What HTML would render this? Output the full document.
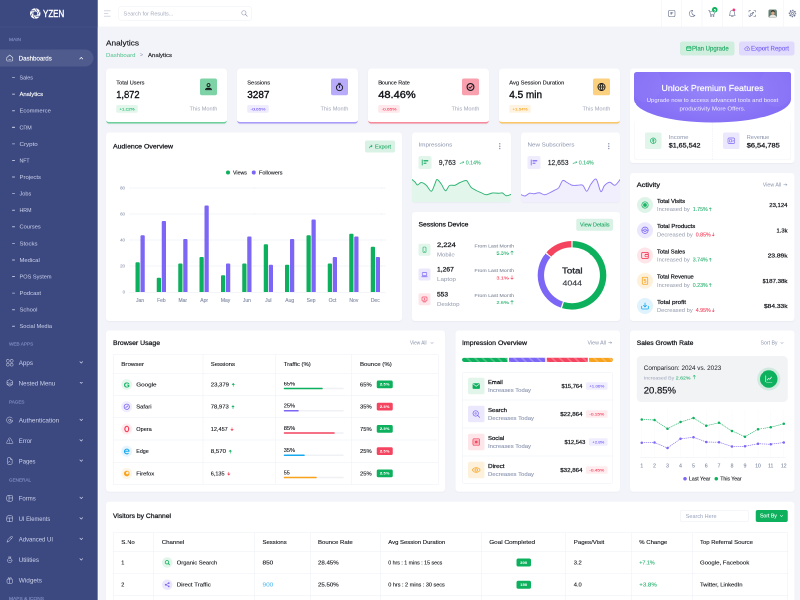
<!DOCTYPE html>
<html lang="en">
<head>
<meta charset="utf-8">
<title>Analytics - YZEN Dashboard</title>
<style>
html,body{margin:0;padding:0;width:800px;height:600px;overflow:hidden;background:#f3f4f9;}
body{font-family:"Liberation Sans",sans-serif;}
#wrap{position:absolute;left:0;top:0;width:1600px;height:1200px;transform:scale(.5);transform-origin:0 0;will-change:transform;overflow:hidden;}
#app{position:absolute;left:0;top:0;width:3200px;height:2400px;transform:scale(.5);transform-origin:0 0;overflow:hidden;background:#f3f4f9;}
#app div,#app span,#app svg,#app h1,#app h2,#app a,#app p{position:absolute;box-sizing:border-box;margin:0;padding:0;}
.t{white-space:nowrap;font-weight:400;text-decoration:none;transform-origin:0 50%;-webkit-text-stroke:.022em currentColor;}
.b{-webkit-text-stroke:.01em currentColor;}
.l{-webkit-text-stroke:0 currentColor;}
.s{-webkit-text-stroke:.04em currentColor;}
</style>
</head>
<body>
<div id="wrap">
<div id="app">
<!-- PAGE HEAD -->
<h2 class="t" style="left:424px;top:155.86px;font-size:31px;line-height:31px;color:#15171c;transform:scaleX(1.064);">Analytics</h2>
<a class="t l" style="left:424px;top:207.76px;font-size:23px;line-height:23px;color:#4cc188;transform:scaleX(1.049);">Dashboard</a>
<span class="t" style="left:560px;top:209.23px;font-size:20px;line-height:20px;color:#9aa3bd;transform:scaleX(1.027);">&gt;</span>
<span class="t" style="left:592px;top:207.76px;font-size:23px;line-height:23px;color:#15171c;transform:scaleX(1.043);">Analytics</span>
<div style="left:2720px;top:166px;width:218px;height:56px;background:#cfeedd;border-radius:10px;"></div>
<svg style="left:2744px;top:183px;" width="22" height="22" viewBox="0 0 22 22" fill="none"><rect x="2" y="4" width="18" height="15" rx="2.500" stroke="#0db15d" stroke-width="2.6"/><path d="M2 9 h18 M6 2 v4 M16 2 v4" stroke="#0db15d" stroke-width="2.600"/></svg>
<span class="t" style="left:2768px;top:182.28px;font-size:24px;line-height:24px;color:#1fa863;">Plan Upgrade</span>
<div style="left:2956px;top:166px;width:222px;height:56px;background:#e0dbfd;border-radius:10px;"></div>
<svg style="left:2977px;top:182px;" width="24" height="24" viewBox="0 0 24 24" fill="none"><path d="M7 19 a5 5 0 0 1 -1 -9.900 a6.500 6.500 0 0 1 12.500 1 a4.500 4.500 0 0 1 -.5 8.900 z" stroke="#7b66f5" stroke-width="2.200"/><path d="M12 17 v-6 M9.500 13 l2.500 -2.500 l2.500 2.500" stroke="#7b66f5" stroke-width="2"/></svg>
<span class="t" style="left:3004px;top:182.28px;font-size:24px;line-height:24px;color:#7b66f5;transform:scaleX(1.027);">Export Report</span>
<div style="left:424px;top:274px;width:484px;height:221px;background:#fff;border-radius:14px;border-bottom:7px solid #6fcf9c;box-shadow:0 2px 6px rgba(30,40,90,.04);"></div>
<span class="t" style="left:465px;top:320.01px;font-size:22.5px;line-height:22.5px;color:#15171c;">Total Users</span>
<span class="t s" style="left:465px;top:358.46px;font-size:40px;line-height:40px;color:#15171c;transform:scaleX(0.929);">1,872</span>
<div style="left:465px;top:420px;width:86px;height:31px;background:#e3f6ec;border-radius:7px;"></div>
<span class="t" style="left:478px;top:427.93px;font-size:15.5px;line-height:15.5px;color:#0db15d;transform:scaleX(1.132);">+1.02%</span>
<span class="t l" style="left:758px;top:423.01px;font-size:22.5px;line-height:22.5px;color:#a0a6b8;">This Month</span>
<div style="left:800px;top:314px;width:68px;height:67px;background:#7ed3a6;border-radius:8px;"></div>
<svg style="left:815px;top:328.5px;" width="38" height="38" viewBox="0 0 32 32" fill="none"><circle cx="16" cy="9.500" r="5" stroke="#15171c" stroke-width="2.9" stroke-linecap="round" stroke-linejoin="round"/><path d="M6 25 c1 -7 19 -7 20 0 z" stroke="#15171c" stroke-width="2.9" stroke-linecap="round" stroke-linejoin="round"/><path d="M11 22 h10" stroke="#15171c" stroke-width="2.9" stroke-linecap="round" stroke-linejoin="round"/></svg>
<div style="left:948px;top:274px;width:484px;height:221px;background:#fff;border-radius:14px;border-bottom:7px solid #a99bf9;box-shadow:0 2px 6px rgba(30,40,90,.04);"></div>
<span class="t" style="left:989px;top:320.01px;font-size:22.5px;line-height:22.5px;color:#15171c;">Sessions</span>
<span class="t s" style="left:989px;top:358.46px;font-size:40px;line-height:40px;color:#15171c;">3287</span>
<div style="left:989px;top:420px;width:86px;height:31px;background:#efecfe;border-radius:7px;"></div>
<span class="t" style="left:1002px;top:427.93px;font-size:15.5px;line-height:15.5px;color:#7b66f5;transform:scaleX(1.222);">-0.65%</span>
<span class="t l" style="left:1282px;top:423.01px;font-size:22.5px;line-height:22.5px;color:#a0a6b8;">This Month</span>
<div style="left:1324px;top:314px;width:68px;height:67px;background:#b7abfa;border-radius:8px;"></div>
<svg style="left:1339px;top:328.5px;" width="38" height="38" viewBox="0 0 32 32" fill="none"><circle cx="16" cy="18" r="10.500" stroke="#15171c" stroke-width="2.9" stroke-linecap="round" stroke-linejoin="round"/><path d="M16 12 v6 M12.500 3.500 h7" stroke="#15171c" stroke-width="2.9" stroke-linecap="round" stroke-linejoin="round"/></svg>
<div style="left:1472px;top:274px;width:484px;height:221px;background:#fff;border-radius:14px;border-bottom:7px solid #f78a9b;box-shadow:0 2px 6px rgba(30,40,90,.04);"></div>
<span class="t" style="left:1513px;top:320.01px;font-size:22.5px;line-height:22.5px;color:#15171c;transform:scaleX(0.969);">Bounce Rate</span>
<span class="t s" style="left:1513px;top:358.46px;font-size:40px;line-height:40px;color:#15171c;transform:scaleX(1.106);">48.46%</span>
<div style="left:1513px;top:420px;width:86px;height:31px;background:#fee8eb;border-radius:7px;"></div>
<span class="t" style="left:1526px;top:427.93px;font-size:15.5px;line-height:15.5px;color:#f5445f;transform:scaleX(1.222);">-0.65%</span>
<span class="t l" style="left:1806px;top:423.01px;font-size:22.5px;line-height:22.5px;color:#a0a6b8;">This Month</span>
<div style="left:1848px;top:314px;width:68px;height:67px;background:#f9a0ae;border-radius:8px;"></div>
<svg style="left:1863px;top:328.5px;" width="38" height="38" viewBox="0 0 32 32" fill="none"><circle cx="16" cy="16" r="11.500" stroke="#15171c" stroke-width="3.800"/><path d="M11 16.500 l3.500 3.500 l7 -7.500" stroke="#15171c" stroke-width="2.9" stroke-linecap="round" stroke-linejoin="round"/></svg>
<div style="left:1996px;top:274px;width:484px;height:221px;background:#fff;border-radius:14px;border-bottom:7px solid #fac668;box-shadow:0 2px 6px rgba(30,40,90,.04);"></div>
<span class="t" style="left:2037px;top:320.01px;font-size:22.5px;line-height:22.5px;color:#15171c;transform:scaleX(1.019);">Avg Session Duration</span>
<span class="t s" style="left:2037px;top:358.46px;font-size:40px;line-height:40px;color:#15171c;">4.5 min</span>
<div style="left:2037px;top:420px;width:86px;height:31px;background:#fef3e0;border-radius:7px;"></div>
<span class="t" style="left:2050px;top:427.93px;font-size:15.5px;line-height:15.5px;color:#f9a21c;transform:scaleX(1.132);">+1.54%</span>
<span class="t l" style="left:2330px;top:423.01px;font-size:22.5px;line-height:22.5px;color:#a0a6b8;">This Month</span>
<div style="left:2372px;top:314px;width:68px;height:67px;background:#fbd07f;border-radius:8px;"></div>
<svg style="left:2387px;top:328.5px;" width="38" height="38" viewBox="0 0 32 32" fill="none"><circle cx="16" cy="16" r="12" stroke="#15171c" stroke-width="2.9" stroke-linecap="round" stroke-linejoin="round"/><path d="M4 16 h24 M16 4 c-6 6 -6 18 0 24 M16 4 c6 6 6 18 0 24" stroke="#15171c" stroke-width="2.9" stroke-linecap="round" stroke-linejoin="round"/></svg>
<!-- PREMIUM -->
<div style="left:2520px;top:274px;width:658px;height:378px;background:#fff;border-radius:12px;box-shadow:0 3px 5px rgba(30,40,90,.035);"></div>
<div style="left:2536px;top:288px;width:628px;height:202px;border-radius:10px 10px 50% 50% / 10px 10px 46% 46%;background:radial-gradient(75% 110% at 50% 35%,#9686f9 0%,#8873f7 55%,#7b65f5 100%);overflow:hidden;"><div style="left:-20px;top:-30px;width:130px;height:150px;border-radius:50%;background:rgba(255,255,255,.035);"></div><div style="left:500px;top:-20px;width:140px;height:160px;border-radius:50%;background:rgba(255,255,255,.035);"></div></div>
<span class="t" style="left:2646px;top:334.88px;font-size:33px;line-height:33px;color:#fff;transform:scaleX(1.07);">Unlock Premium Features</span>
<span class="t l" style="left:2587px;top:390.25px;font-size:22px;line-height:22px;color:#f1eefe;transform:scaleX(1.081);">Upgrade now to access advanced tools and boost</span>
<span class="t l" style="left:2718px;top:424.25px;font-size:22px;line-height:22px;color:#f1eefe;transform:scaleX(1.104);">productivity More Offers.</span>
<div style="left:2536px;top:488px;width:628px;height:152px;border-radius:0 0 12px 12px;border:2px solid #f2f3f8;border-top:none;"></div>
<div style="left:2849px;top:492px;width:2px;height:146px;border-left:2px dashed #e9ebf2;"></div>
<div style="left:2580px;top:530px;width:66px;height:66px;background:#e1f5ea;border-radius:8px;"></div>
<svg style="left:2597px;top:547px;" width="32" height="32" viewBox="0 0 32 32" fill="none"><circle cx="16" cy="16" r="11" stroke="#0db15d" stroke-width="2.6"/><path d="M12 11 h8 M12 15 h8 M14 11 c5 0 5 8 0 8 l5 5" stroke="#0db15d" stroke-width="2.200" stroke-linecap="round"/></svg>
<span class="t l" style="left:2675px;top:537.01px;font-size:22.5px;line-height:22.5px;color:#8a94ad;transform:scaleX(1.071);">Income</span>
<span class="t s" style="left:2675px;top:568.3px;font-size:26px;line-height:26px;color:#15171c;transform:scaleX(1.098);">$1,65,542</span>
<div style="left:2892px;top:530px;width:66px;height:66px;background:#ebe8fe;border-radius:8px;"></div>
<svg style="left:2909px;top:547px;" width="32" height="32" viewBox="0 0 32 32" fill="none"><rect x="3" y="5" width="26" height="22" rx="4" stroke="#7b66f5" stroke-width="2.6"/><rect x="9" y="11" width="9" height="10" rx="2" stroke="#7b66f5" stroke-width="2.400"/><path d="M22 13 l3 3 l-3 3" stroke="#7b66f5" stroke-width="2.200" stroke-linecap="round"/></svg>
<span class="t l" style="left:2987px;top:537.01px;font-size:22.5px;line-height:22.5px;color:#8a94ad;">Revenue</span>
<span class="t s" style="left:2987px;top:568.3px;font-size:26px;line-height:26px;color:#15171c;transform:scaleX(1.141);">$6,54,785</span>
<!-- AUDIENCE OVERVIEW -->
<div style="left:424px;top:530px;width:1184px;height:754px;background:#fff;border-radius:12px;box-shadow:0 3px 5px rgba(30,40,90,.035);"></div>
<h2 class="t s" style="left:452px;top:570.81px;font-size:27px;line-height:27px;color:#15171c;transform:scaleX(1.032);">Audience Overview</h2>
<div style="left:1460px;top:562px;width:120px;height:48px;background:#d9f2e5;border-radius:8px;"></div>
<svg style="left:1474px;top:577px;" width="20" height="20" viewBox="0 0 20 20" fill="none"><path d="M3 15 c2 -6 6 -8 11 -8 M10 3 l5 4 l-5 4" stroke="#0db15d" stroke-width="2.400" stroke-linecap="round" stroke-linejoin="round"/></svg>
<span class="t" style="left:1500px;top:575.5px;font-size:21.5px;line-height:21.5px;color:#1fa863;transform:scaleX(1.03);">Export</span>
<div style="left:904px;top:682px;width:16px;height:16px;background:#0db15d;border-radius:8px;"></div>
<span class="t" style="left:932px;top:679.74px;font-size:21px;line-height:21px;color:#15171c;">Views</span>
<div style="left:1007px;top:682px;width:16px;height:16px;background:#7b66f5;border-radius:8px;"></div>
<span class="t" style="left:1036px;top:679.74px;font-size:21px;line-height:21px;color:#15171c;transform:scaleX(1.046);">Followers</span>
<span class="t" style="left:480.53px;top:743.45px;font-size:17.5px;line-height:17.5px;color:#949db3;">80</span>
<div style="left:516px;top:751px;width:1026px;height:2px;border-top:2px dotted #d3d7e2;"></div>
<span class="t" style="left:480.53px;top:847.45px;font-size:17.5px;line-height:17.5px;color:#949db3;">60</span>
<div style="left:516px;top:855px;width:1026px;height:2px;border-top:2px dotted #d3d7e2;"></div>
<span class="t" style="left:480.53px;top:951.45px;font-size:17.5px;line-height:17.5px;color:#949db3;">40</span>
<div style="left:516px;top:959px;width:1026px;height:2px;border-top:2px dotted #d3d7e2;"></div>
<span class="t" style="left:480.53px;top:1055.45px;font-size:17.5px;line-height:17.5px;color:#949db3;">20</span>
<div style="left:516px;top:1063px;width:1026px;height:2px;border-top:2px dotted #d3d7e2;"></div>
<span class="t" style="left:490.27px;top:1159.45px;font-size:17.5px;line-height:17.5px;color:#949db3;">0</span>
<div style="left:516px;top:1168px;width:1026px;height:2px;background:#e9ebf2;"></div>
<div style="left:541.5px;top:1049.09px;width:17px;height:118.91px;background:#0db15d;border-radius:4px 4px 0 0;"></div>
<div style="left:561.5px;top:940.52px;width:17px;height:227.48px;background:#7b66f5;border-radius:4px 4px 0 0;"></div>
<span class="t" style="left:543.88px;top:1191.23px;font-size:20px;line-height:20px;color:#7f89a3;">Jan</span>
<div style="left:627.05px;top:1111.13px;width:17px;height:56.87px;background:#0db15d;border-radius:4px 4px 0 0;"></div>
<div style="left:647.05px;top:883.65px;width:17px;height:284.35px;background:#7b66f5;border-radius:4px 4px 0 0;"></div>
<span class="t" style="left:628.32px;top:1191.23px;font-size:20px;line-height:20px;color:#7f89a3;">Feb</span>
<div style="left:712.6px;top:1054.26px;width:17px;height:113.74px;background:#0db15d;border-radius:4px 4px 0 0;"></div>
<div style="left:732.6px;top:956.03px;width:17px;height:211.97px;background:#7b66f5;border-radius:4px 4px 0 0;"></div>
<span class="t" style="left:713.88px;top:1191.23px;font-size:20px;line-height:20px;color:#7f89a3;">Mar</span>
<div style="left:798.15px;top:1028.41px;width:17px;height:139.59px;background:#0db15d;border-radius:4px 4px 0 0;"></div>
<div style="left:818.15px;top:821.61px;width:17px;height:346.39px;background:#7b66f5;border-radius:4px 4px 0 0;"></div>
<span class="t" style="left:801.09px;top:1191.23px;font-size:20px;line-height:20px;color:#7f89a3;">Apr</span>
<div style="left:883.7px;top:1100.79px;width:17px;height:67.21px;background:#0db15d;border-radius:4px 4px 0 0;"></div>
<div style="left:903.7px;top:1054.26px;width:17px;height:113.74px;background:#7b66f5;border-radius:4px 4px 0 0;"></div>
<span class="t" style="left:883.31px;top:1191.23px;font-size:20px;line-height:20px;color:#7f89a3;">May</span>
<div style="left:969.25px;top:1054.26px;width:17px;height:113.74px;background:#0db15d;border-radius:4px 4px 0 0;"></div>
<div style="left:989.25px;top:945.69px;width:17px;height:222.31px;background:#7b66f5;border-radius:4px 4px 0 0;"></div>
<span class="t" style="left:971.63px;top:1191.23px;font-size:20px;line-height:20px;color:#7f89a3;">Jun</span>
<div style="left:1054.8px;top:976.71px;width:17px;height:191.29px;background:#0db15d;border-radius:4px 4px 0 0;"></div>
<div style="left:1074.8px;top:1059.43px;width:17px;height:108.57px;background:#7b66f5;border-radius:4px 4px 0 0;"></div>
<span class="t" style="left:1060.52px;top:1191.23px;font-size:20px;line-height:20px;color:#7f89a3;">Jul</span>
<div style="left:1140.35px;top:1059.43px;width:17px;height:108.57px;background:#0db15d;border-radius:4px 4px 0 0;"></div>
<div style="left:1160.35px;top:956.03px;width:17px;height:211.97px;background:#7b66f5;border-radius:4px 4px 0 0;"></div>
<span class="t" style="left:1141.06px;top:1191.23px;font-size:20px;line-height:20px;color:#7f89a3;">Aug</span>
<div style="left:1225.9px;top:940.52px;width:17px;height:227.48px;background:#0db15d;border-radius:4px 4px 0 0;"></div>
<div style="left:1245.9px;top:878.48px;width:17px;height:289.52px;background:#7b66f5;border-radius:4px 4px 0 0;"></div>
<span class="t" style="left:1226.61px;top:1191.23px;font-size:20px;line-height:20px;color:#7f89a3;">Sep</span>
<div style="left:1311.45px;top:1054.26px;width:17px;height:113.74px;background:#0db15d;border-radius:4px 4px 0 0;"></div>
<div style="left:1331.45px;top:1028.41px;width:17px;height:139.59px;background:#7b66f5;border-radius:4px 4px 0 0;"></div>
<span class="t" style="left:1314.39px;top:1191.23px;font-size:20px;line-height:20px;color:#7f89a3;">Oct</span>
<div style="left:1397px;top:935.35px;width:17px;height:232.65px;background:#0db15d;border-radius:4px 4px 0 0;"></div>
<div style="left:1417px;top:945.69px;width:17px;height:222.31px;background:#7b66f5;border-radius:4px 4px 0 0;"></div>
<span class="t" style="left:1397.72px;top:1191.23px;font-size:20px;line-height:20px;color:#7f89a3;">Nov</span>
<div style="left:1482.55px;top:987.05px;width:17px;height:180.95px;background:#0db15d;border-radius:4px 4px 0 0;"></div>
<div style="left:1502.55px;top:1028.41px;width:17px;height:139.59px;background:#7b66f5;border-radius:4px 4px 0 0;"></div>
<span class="t" style="left:1483.27px;top:1191.23px;font-size:20px;line-height:20px;color:#7f89a3;">Dec</span>
<!-- IMPRESSIONS / SUBSCRIBERS -->
<div style="left:1648px;top:530px;width:396px;height:278px;background:#fff;border-radius:12px;box-shadow:0 3px 5px rgba(30,40,90,.035);overflow:hidden;"></div>
<span class="t l" style="left:1674px;top:566.52px;font-size:23.5px;line-height:23.5px;color:#8a94ad;transform:scaleX(1.066);">Impressions</span>
<div style="left:1995.5px;top:572px;width:6px;height:6px;background:#8f98b3;border-radius:3px;"></div>
<div style="left:1995.5px;top:581.5px;width:6px;height:6px;background:#8f98b3;border-radius:3px;"></div>
<div style="left:1995.5px;top:591px;width:6px;height:6px;background:#8f98b3;border-radius:3px;"></div>
<div style="left:1674px;top:624px;width:52px;height:52px;background:#e1f5ea;border-radius:8px;"></div>
<svg style="left:1685px;top:635px;" width="30" height="30" viewBox="0 0 30 30" fill="none"><path d="M4 5 v20" stroke="#2fb574" stroke-width="3.800" stroke-linecap="round"/><path d="M11.500 8 h14" stroke="#2fb574" stroke-width="6" stroke-linecap="round"/><path d="M11.500 18 h7" stroke="#2fb574" stroke-width="5" stroke-linecap="round"/></svg>
<span class="t" style="left:1755px;top:637.32px;font-size:28px;line-height:28px;color:#23262d;transform:scaleX(0.97);">9,763</span>
<svg style="left:1838px;top:641px;" width="20" height="20" viewBox="0 0 20 20" fill="none"><path d="M2 14 l5 -4 l3 2 l7 -6 M13 6 h4 v4" stroke="#2fb574" stroke-width="2.200" stroke-linecap="round" stroke-linejoin="round"/></svg>
<span class="t" style="left:1863px;top:641.23px;font-size:20px;line-height:20px;color:#2fb574;transform:scaleX(1.058);">0.14%</span>
<svg style="left:1648px;top:700px;" width="396" height="108" viewBox="0 0 396 108" fill="none"><path d="M0 18 C1.92 19.6 8.48 24.48 12 28 C15.52 31.52 18 39.68 22 40 C26 40.32 31.4 29.84 37 30 C42.6 30.16 50.6 35.4 57 41 C63.4 46.6 71.72 65.16 77 65 C82.28 64.84 86.32 47.52 90 40 C93.68 32.48 95.68 18.64 100 18 C104.32 17.36 111.56 28.8 117 36 C122.44 43.2 128.72 62.04 134 63 C139.28 63.96 143.92 45.52 150 42 C156.08 38.48 165.28 42.92 172 41 C178.72 39.08 184.8 33.04 192 30 C199.2 26.96 211.4 21.2 217 22 C222.6 22.8 223.8 30.52 227 35 C230.2 39.48 232.2 45.68 237 50 C241.8 54.32 250.6 58.64 257 62 C263.4 65.36 270.6 68.28 277 71 C283.4 73.72 289.8 78.84 297 79 C304.2 79.16 314 72.96 322 72 C330 71.04 340.6 73 347 73 C353.4 73 357.2 70.4 362 72 C366.8 73.6 371.72 82.04 377 83 C382.28 83.96 392.12 78.8 395 78 L395 110 L0 110 Z" fill="#e3f6ec"/><path d="M0 18 C1.92 19.6 8.48 24.48 12 28 C15.52 31.52 18 39.68 22 40 C26 40.32 31.4 29.84 37 30 C42.6 30.16 50.6 35.4 57 41 C63.4 46.6 71.72 65.16 77 65 C82.28 64.84 86.32 47.52 90 40 C93.68 32.48 95.68 18.64 100 18 C104.32 17.36 111.56 28.8 117 36 C122.44 43.2 128.72 62.04 134 63 C139.28 63.96 143.92 45.52 150 42 C156.08 38.48 165.28 42.92 172 41 C178.72 39.08 184.8 33.04 192 30 C199.2 26.96 211.4 21.2 217 22 C222.6 22.8 223.8 30.52 227 35 C230.2 39.48 232.2 45.68 237 50 C241.8 54.32 250.6 58.64 257 62 C263.4 65.36 270.6 68.28 277 71 C283.4 73.72 289.8 78.84 297 79 C304.2 79.16 314 72.96 322 72 C330 71.04 340.6 73 347 73 C353.4 73 357.2 70.4 362 72 C366.8 73.6 371.72 82.04 377 83 C382.28 83.96 392.12 78.8 395 78" stroke="#2fb574" stroke-width="3.800" stroke-linejoin="round" stroke-linecap="round"/></svg>
<div style="left:2084px;top:530px;width:396px;height:278px;background:#fff;border-radius:12px;box-shadow:0 3px 5px rgba(30,40,90,.035);overflow:hidden;"></div>
<span class="t l" style="left:2110px;top:566.52px;font-size:23.5px;line-height:23.5px;color:#8a94ad;transform:scaleX(1.058);">New Subscribers</span>
<div style="left:2431.5px;top:572px;width:6px;height:6px;background:#8f98b3;border-radius:3px;"></div>
<div style="left:2431.5px;top:581.5px;width:6px;height:6px;background:#8f98b3;border-radius:3px;"></div>
<div style="left:2431.5px;top:591px;width:6px;height:6px;background:#8f98b3;border-radius:3px;"></div>
<div style="left:2110px;top:624px;width:52px;height:52px;background:#efecfe;border-radius:8px;"></div>
<svg style="left:2121px;top:635px;" width="30" height="30" viewBox="0 0 30 30" fill="none"><path d="M4 5 v20" stroke="#8f7df7" stroke-width="3.800" stroke-linecap="round"/><path d="M11.500 8 h14" stroke="#8f7df7" stroke-width="6" stroke-linecap="round"/><path d="M11.500 18 h7" stroke="#8f7df7" stroke-width="5" stroke-linecap="round"/></svg>
<span class="t" style="left:2191px;top:637.32px;font-size:28px;line-height:28px;color:#23262d;transform:scaleX(0.969);">12,653</span>
<svg style="left:2290px;top:641px;" width="20" height="20" viewBox="0 0 20 20" fill="none"><path d="M2 14 l5 -4 l3 2 l7 -6 M13 6 h4 v4" stroke="#2fb574" stroke-width="2.200" stroke-linecap="round" stroke-linejoin="round"/></svg>
<span class="t" style="left:2315px;top:641.23px;font-size:20px;line-height:20px;color:#2fb574;transform:scaleX(1.058);">0.14%</span>
<svg style="left:2084px;top:700px;" width="396" height="108" viewBox="0 0 396 108" fill="none"><path d="M-1 78 C1.72 78.96 10.4 84.8 16 84 C21.6 83.2 28.24 74.44 34 73 C39.76 71.56 45.76 75.32 52 75 C58.24 74.68 66.28 70.36 73 71 C79.72 71.64 87.28 79 94 79 C100.72 79 108.28 74.04 115 71 C121.72 67.96 130.24 63.2 136 60 C141.76 56.8 146.04 57.08 151 51 C155.96 44.92 161.72 25.36 167 22 C172.28 18.64 177.92 26.96 184 30 C190.08 33.04 198.28 39.24 205 41 C211.72 42.76 219.28 41 226 41 C232.72 41 241.08 37.16 247 41 C252.92 44.84 257.72 65.8 263 65 C268.28 64.2 273.92 43.68 280 36 C286.08 28.32 294.76 12.2 301 17 C307.24 21.8 313.72 62 319 66 C324.28 70 328.24 47.92 334 42 C339.76 36.08 348.28 29.16 355 29 C361.72 28.84 369.12 43.08 376 41 C382.88 38.92 394.48 20 398 16 L398 110 L-1 110 Z" fill="#f1eefe"/><path d="M-1 78 C1.72 78.96 10.4 84.8 16 84 C21.6 83.2 28.24 74.44 34 73 C39.76 71.56 45.76 75.32 52 75 C58.24 74.68 66.28 70.36 73 71 C79.72 71.64 87.28 79 94 79 C100.72 79 108.28 74.04 115 71 C121.72 67.96 130.24 63.2 136 60 C141.76 56.8 146.04 57.08 151 51 C155.96 44.92 161.72 25.36 167 22 C172.28 18.64 177.92 26.96 184 30 C190.08 33.04 198.28 39.24 205 41 C211.72 42.76 219.28 41 226 41 C232.72 41 241.08 37.16 247 41 C252.92 44.84 257.72 65.8 263 65 C268.28 64.2 273.92 43.68 280 36 C286.08 28.32 294.76 12.2 301 17 C307.24 21.8 313.72 62 319 66 C324.28 70 328.24 47.92 334 42 C339.76 36.08 348.28 29.16 355 29 C361.72 28.84 369.12 43.08 376 41 C382.88 38.92 394.48 20 398 16" stroke="#8f7df7" stroke-width="3.800" stroke-linejoin="round" stroke-linecap="round"/></svg>
<!-- SESSIONS DEVICE -->
<div style="left:1648px;top:848px;width:832px;height:436px;background:#fff;border-radius:12px;box-shadow:0 3px 5px rgba(30,40,90,.035);"></div>
<h2 class="t s" style="left:1674px;top:882.81px;font-size:27px;line-height:27px;color:#15171c;">Sessions Device</h2>
<div style="left:2305px;top:875px;width:147px;height:48px;background:#d9f2e5;border-radius:8px;"></div>
<span class="t" style="left:2319.5px;top:888.99px;font-size:20.5px;line-height:20.5px;color:#1fa863;transform:scaleX(1.05);">View Details</span>
<div style="left:1674px;top:975px;width:48px;height:48px;background:#e1f5ea;border-radius:8px;"></div>
<svg style="left:1684px;top:985px;" width="28" height="28" viewBox="0 0 28 28" fill="none"><rect x="8" y="3" width="12" height="22" rx="3" stroke="#0db15d" stroke-width="2.400"/><path d="M12 21 h4" stroke="#0db15d" stroke-width="2"/></svg>
<span class="t s" style="left:1748px;top:964.81px;font-size:27px;line-height:27px;color:#15171c;transform:scaleX(1.11);">2,224</span>
<span class="t l" style="left:1748px;top:1005.76px;font-size:23px;line-height:23px;color:#9198ab;transform:scaleX(1.048);">Mobile</span>
<span class="t" style="left:1898px;top:973.47px;font-size:19.5px;line-height:19.5px;color:#878e9f;transform:scaleX(1.072);">From Last Month</span>
<span class="t" style="left:1986px;top:1001.72px;font-size:19px;line-height:19px;color:#2fb574;transform:scaleX(1.108);">5.3%</span>
<svg style="left:2040px;top:1001px;" width="16" height="20" viewBox="0 0 16 20" fill="none"><path d="M8 18 V3 M3 8 l5 -5 l5 5" stroke="#2fb574" stroke-width="2.200" stroke-linecap="round" stroke-linejoin="round"/></svg>
<div style="left:1674px;top:1074px;width:48px;height:48px;background:#ebe8fe;border-radius:8px;"></div>
<svg style="left:1684px;top:1084px;" width="28" height="28" viewBox="0 0 28 28" fill="none"><rect x="5" y="6" width="18" height="13" rx="3" stroke="#7b66f5" stroke-width="2.600"/><path d="M3 23 h22" stroke="#7b66f5" stroke-width="2.600" stroke-linecap="round"/></svg>
<span class="t s" style="left:1748px;top:1063.81px;font-size:27px;line-height:27px;color:#15171c;">1,267</span>
<span class="t l" style="left:1748px;top:1104.76px;font-size:23px;line-height:23px;color:#9198ab;transform:scaleX(1.08);">Laptop</span>
<span class="t" style="left:1898px;top:1072.47px;font-size:19.5px;line-height:19.5px;color:#878e9f;transform:scaleX(1.072);">From Last Month</span>
<span class="t" style="left:1986px;top:1100.72px;font-size:19px;line-height:19px;color:#f5445f;transform:scaleX(1.108);">3.1%</span>
<svg style="left:2040px;top:1100px;" width="16" height="20" viewBox="0 0 16 20" fill="none"><path d="M8 2 V17 M3 12 l5 5 l5 -5" stroke="#f5445f" stroke-width="2.200" stroke-linecap="round" stroke-linejoin="round"/></svg>
<div style="left:1674px;top:1173px;width:48px;height:48px;background:#fee5e9;border-radius:8px;"></div>
<svg style="left:1684px;top:1183px;" width="28" height="28" viewBox="0 0 28 28" fill="none"><rect x="4" y="5" width="20" height="16" rx="3" stroke="#f5445f" stroke-width="2.600"/><circle cx="14" cy="13" r="3" fill="#f5445f"/><path d="M9 25 h10" stroke="#f5445f" stroke-width="2.400" stroke-linecap="round"/></svg>
<span class="t s" style="left:1748px;top:1162.81px;font-size:27px;line-height:27px;color:#15171c;transform:scaleX(0.977);">553</span>
<span class="t l" style="left:1748px;top:1203.76px;font-size:23px;line-height:23px;color:#9198ab;transform:scaleX(1.067);">Desktop</span>
<span class="t" style="left:1898px;top:1171.47px;font-size:19.5px;line-height:19.5px;color:#878e9f;transform:scaleX(1.072);">From Last Month</span>
<span class="t" style="left:1986px;top:1199.72px;font-size:19px;line-height:19px;color:#2fb574;transform:scaleX(1.108);">2.6%</span>
<svg style="left:2040px;top:1199px;" width="16" height="20" viewBox="0 0 16 20" fill="none"><path d="M8 18 V3 M3 8 l5 -5 l5 5" stroke="#2fb574" stroke-width="2.200" stroke-linecap="round" stroke-linejoin="round"/></svg>
<svg style="left:2138px;top:951px;" width="300" height="300" viewBox="0 0 300 300" fill="none"><path d="M152.39 25.52 A124.5 124.5 0 1 1 113.81 269.12" stroke="#0db15d" stroke-width="25.500"/><path d="M109.26 267.65 A124.5 124.5 0 0 1 54.21 70.47" stroke="#7b66f5" stroke-width="25.500"/><path d="M57.33 66.85 A124.5 124.5 0 0 1 147.61 25.52" stroke="#f5445f" stroke-width="25.500"/></svg>
<span class="t s" style="left:2248px;top:1064.39px;font-size:34px;line-height:34px;color:#2a2d34;transform:scaleX(1.142);">Total</span>
<span class="t" style="left:2250px;top:1116.35px;font-size:30px;line-height:30px;color:#3a3d45;transform:scaleX(1.169);">4044</span>
<!-- ACTIVITY -->
<div style="left:2520px;top:692px;width:658px;height:592px;background:#fff;border-radius:12px;box-shadow:0 3px 5px rgba(30,40,90,.035);"></div>
<h2 class="t s" style="left:2547px;top:725.3px;font-size:26px;line-height:26px;color:#15171c;transform:scaleX(1.129);">Activity</h2>
<span class="t l" style="left:3051px;top:729.23px;font-size:20px;line-height:20px;color:#8a94ad;transform:scaleX(1.062);">View All</span>
<svg style="left:3133px;top:732px;" width="18" height="14" viewBox="0 0 18 14" fill="none"><path d="M2 7 h13 M10 3 l5 4 l-5 4" stroke="#8a94ad" stroke-width="2" stroke-linecap="round" stroke-linejoin="round"/></svg>
<div style="left:2548px;top:788px;width:64px;height:64px;background:#dff4e9;border-radius:32px;"></div>
<svg style="left:2563px;top:803px;" width="34" height="34" viewBox="0 0 28 28" fill="none"><circle cx="14" cy="14" r="10.500" stroke="#0db15d" stroke-width="2.200"/><circle cx="14" cy="14" r="7" fill="#0db15d" opacity=".75"/><circle cx="14" cy="14" r="3.500" fill="#0db15d"/></svg>
<span class="t s" style="left:2628px;top:791.76px;font-size:23px;line-height:23px;color:#15171c;transform:scaleX(1.023);">Total Visits</span>
<span class="t l" style="left:2628px;top:826.25px;font-size:22px;line-height:22px;color:#9198ab;transform:scaleX(1.04);">Increased by</span>
<span class="t" style="left:2771px;top:826.25px;font-size:22px;line-height:22px;color:#2fb574;transform:scaleX(0.962);">1.75%</span>
<svg style="left:2835px;top:828px;" width="12" height="18" viewBox="0 0 12 18" fill="none"><path d="M6 16 V3 M2 7 l4 -4 l4 4" stroke="#2fb574" stroke-width="2.200" stroke-linecap="round" stroke-linejoin="round"/></svg>
<span class="t s" style="left:3077px;top:808.76px;font-size:23px;line-height:23px;color:#15171c;transform:scaleX(1.038);">23,124</span>
<div style="left:2548px;top:889px;width:64px;height:64px;background:#ebe8fe;border-radius:32px;"></div>
<svg style="left:2563px;top:904px;" width="34" height="34" viewBox="0 0 28 28" fill="none"><circle cx="14" cy="14" r="10.500" stroke="#7b66f5" stroke-width="2.600"/><circle cx="14" cy="14" r="4" stroke="#7b66f5" stroke-width="2.400"/><path d="M3.500 14 h6.500 M18 14 h6.500" stroke="#7b66f5" stroke-width="2.400"/></svg>
<span class="t s" style="left:2628px;top:892.76px;font-size:23px;line-height:23px;color:#15171c;transform:scaleX(1.05);">Total Products</span>
<span class="t l" style="left:2628px;top:927.25px;font-size:22px;line-height:22px;color:#9198ab;transform:scaleX(1.053);">Decreased by</span>
<span class="t" style="left:2783px;top:927.25px;font-size:22px;line-height:22px;color:#f5445f;transform:scaleX(0.962);">0.85%</span>
<svg style="left:2847px;top:929px;" width="12" height="18" viewBox="0 0 12 18" fill="none"><path d="M6 2 V15 M2 11 l4 4 l4 -4" stroke="#f5445f" stroke-width="2.200" stroke-linecap="round" stroke-linejoin="round"/></svg>
<span class="t s" style="left:3106px;top:909.76px;font-size:23px;line-height:23px;color:#15171c;transform:scaleX(1.012);">1.3k</span>
<div style="left:2548px;top:990px;width:64px;height:64px;background:#fee5e9;border-radius:32px;"></div>
<svg style="left:2563px;top:1005px;" width="34" height="34" viewBox="0 0 28 28" fill="none"><rect x="3" y="4" width="22" height="20" rx="4" stroke="#f5445f" stroke-width="2.800"/><rect x="14" y="10" width="11" height="8" rx="2" stroke="#f5445f" stroke-width="2.400"/></svg>
<span class="t s" style="left:2628px;top:993.76px;font-size:23px;line-height:23px;color:#15171c;">Total Sales</span>
<span class="t l" style="left:2628px;top:1028.25px;font-size:22px;line-height:22px;color:#9198ab;transform:scaleX(1.04);">Increased by</span>
<span class="t" style="left:2771px;top:1028.25px;font-size:22px;line-height:22px;color:#2fb574;transform:scaleX(0.962);">3.74%</span>
<svg style="left:2835px;top:1030px;" width="12" height="18" viewBox="0 0 12 18" fill="none"><path d="M6 16 V3 M2 7 l4 -4 l4 4" stroke="#2fb574" stroke-width="2.200" stroke-linecap="round" stroke-linejoin="round"/></svg>
<span class="t s" style="left:3071px;top:1010.76px;font-size:23px;line-height:23px;color:#15171c;transform:scaleX(1.144);">23.89k</span>
<div style="left:2548px;top:1091px;width:64px;height:64px;background:#fef1dc;border-radius:32px;"></div>
<svg style="left:2563px;top:1106px;" width="34" height="34" viewBox="0 0 28 28" fill="none"><rect x="5" y="2.500" width="18" height="23" rx="3" stroke="#f9a21c" stroke-width="2.600"/><path d="M17 9 h-4 a2.500 2.500 0 0 0 0 5 h2 a2.500 2.500 0 0 1 0 5 h-4" stroke="#f9a21c" stroke-width="2.200"/></svg>
<span class="t s" style="left:2628px;top:1094.76px;font-size:23px;line-height:23px;color:#15171c;">Total Revenue</span>
<span class="t l" style="left:2628px;top:1129.25px;font-size:22px;line-height:22px;color:#9198ab;transform:scaleX(1.04);">Increased by</span>
<span class="t" style="left:2771px;top:1129.25px;font-size:22px;line-height:22px;color:#2fb574;transform:scaleX(0.962);">0.23%</span>
<svg style="left:2835px;top:1131px;" width="12" height="18" viewBox="0 0 12 18" fill="none"><path d="M6 16 V3 M2 7 l4 -4 l4 4" stroke="#2fb574" stroke-width="2.200" stroke-linecap="round" stroke-linejoin="round"/></svg>
<span class="t s" style="left:3049px;top:1111.76px;font-size:23px;line-height:23px;color:#15171c;transform:scaleX(1.067);">$187.38k</span>
<div style="left:2548px;top:1192px;width:64px;height:64px;background:#def3fd;border-radius:32px;"></div>
<svg style="left:2563px;top:1207px;" width="34" height="34" viewBox="0 0 28 28" fill="none"><path d="M3 15 v7 a2 2 0 0 0 2 2 h18 a2 2 0 0 0 2 -2 v-7" stroke="#16a9ef" stroke-width="2.600" stroke-linecap="round"/><path d="M14 4 v12 M9 12 l5 5 l5 -5" stroke="#16a9ef" stroke-width="2.600" stroke-linecap="round" stroke-linejoin="round"/></svg>
<span class="t s" style="left:2628px;top:1195.76px;font-size:23px;line-height:23px;color:#15171c;transform:scaleX(1.093);">Total profit</span>
<span class="t l" style="left:2628px;top:1230.25px;font-size:22px;line-height:22px;color:#9198ab;transform:scaleX(1.053);">Decreased by</span>
<span class="t" style="left:2783px;top:1230.25px;font-size:22px;line-height:22px;color:#f5445f;transform:scaleX(0.962);">4.95%</span>
<svg style="left:2847px;top:1232px;" width="12" height="18" viewBox="0 0 12 18" fill="none"><path d="M6 2 V15 M2 11 l4 4 l4 -4" stroke="#f5445f" stroke-width="2.200" stroke-linecap="round" stroke-linejoin="round"/></svg>
<span class="t s" style="left:3056px;top:1212.76px;font-size:23px;line-height:23px;color:#15171c;transform:scaleX(1.148);">$84.33k</span>
<!-- BROWSER USAGE -->
<div style="left:424px;top:1322px;width:1356px;height:645px;background:#fff;border-radius:12px;box-shadow:0 3px 5px rgba(30,40,90,.035);"></div>
<h2 class="t s" style="left:452px;top:1356.81px;font-size:27px;line-height:27px;color:#15171c;transform:scaleX(1.019);">Browser Usage</h2>
<span class="t l" style="left:1640px;top:1361.23px;font-size:20px;line-height:20px;color:#8a94ad;transform:scaleX(0.947);">View All</span>
<svg style="left:1720px;top:1366px;" width="16" height="12" viewBox="0 0 16 12" fill="none"><path d="M3 3 L8 8.500 L13 3" stroke="#8a94ad" stroke-width="2" stroke-linecap="round" stroke-linejoin="round"/></svg>
<div style="left:452px;top:1418px;width:1302px;height:521px;border:2px solid #eef0f5;"></div>
<div style="left:452px;top:1492px;width:1302px;height:2px;background:#eef0f5;"></div>
<div style="left:452px;top:1581px;width:1302px;height:2px;background:#eef0f5;"></div>
<div style="left:452px;top:1670px;width:1302px;height:2px;background:#eef0f5;"></div>
<div style="left:452px;top:1759px;width:1302px;height:2px;background:#eef0f5;"></div>
<div style="left:452px;top:1848px;width:1302px;height:2px;background:#eef0f5;"></div>
<div style="left:811px;top:1418px;width:2px;height:521px;background:#eef0f5;"></div>
<div style="left:1101px;top:1418px;width:2px;height:521px;background:#eef0f5;"></div>
<div style="left:1405px;top:1418px;width:2px;height:521px;background:#eef0f5;"></div>
<span class="t" style="left:485px;top:1445.01px;font-size:22.5px;line-height:22.5px;color:#15171c;transform:scaleX(1.103);">Browser</span>
<span class="t" style="left:843px;top:1445.01px;font-size:22.5px;line-height:22.5px;color:#15171c;transform:scaleX(1.062);">Sessions</span>
<span class="t" style="left:1135px;top:1445.01px;font-size:22.5px;line-height:22.5px;color:#15171c;transform:scaleX(1.054);">Traffic (%)</span>
<span class="t" style="left:1440px;top:1445.01px;font-size:22.5px;line-height:22.5px;color:#15171c;transform:scaleX(1.08);">Bounce (%)</span>
<div style="left:485px;top:1515.5px;width:44px;height:44px;background:#e7f7ef;border-radius:22px;"></div>
<span class="t b" style="left:494.94px;top:1522.86px;font-size:31px;line-height:31px;color:#0db15d;font-weight:700;">G</span>
<span class="t" style="left:545px;top:1526.75px;font-size:22px;line-height:22px;color:#15171c;transform:scaleX(1.142);">Google</span>
<span class="t" style="left:843px;top:1527.24px;font-size:21px;line-height:21px;color:#15171c;transform:scaleX(1.136);">23,379</span>
<svg style="left:926px;top:1530.5px;" width="14" height="16" viewBox="0 0 14 16" fill="none"><path d="M7 15 V5" stroke="#0db15d" stroke-width="2.400" stroke-linecap="round"/><path d="M1.500 7.500 L7 1.500 L12.500 7.500 Z" fill="#0db15d" stroke="#0db15d" stroke-width="1.500" stroke-linejoin="round"/></svg>
<span class="t" style="left:1135px;top:1523.24px;font-size:21px;line-height:21px;color:#15171c;transform:scaleX(1.071);">65%</span>
<div style="left:1135px;top:1550.5px;width:240px;height:6px;background:#f0f1f5;border-radius:3px;"></div>
<div style="left:1135px;top:1550.5px;width:156px;height:6px;background:#0db15d;border-radius:3px;"></div>
<span class="t" style="left:1440px;top:1527.24px;font-size:21px;line-height:21px;color:#15171c;transform:scaleX(1.118);">65%</span>
<div style="left:1507px;top:1521.5px;width:64px;height:31px;background:#0db15d;border-radius:6px;"></div>
<span class="t b" style="left:1518.93px;top:1529.43px;font-size:15.5px;line-height:15.5px;color:#fff;font-weight:700;letter-spacing:1.2px;">2.5%</span>
<div style="left:485px;top:1604.5px;width:44px;height:44px;background:#efedfe;border-radius:22px;"></div>
<svg style="left:493px;top:1612.5px;" width="28" height="28" viewBox="0 0 24 24" fill="none"><circle cx="12" cy="12" r="9" stroke="#7b66f5" stroke-width="2.800"/><path d="M8.500 15.500 L15.500 8.500" stroke="#7b66f5" stroke-width="2.600" stroke-linecap="round"/></svg>
<span class="t" style="left:545px;top:1615.75px;font-size:22px;line-height:22px;color:#15171c;transform:scaleX(1.061);">Safari</span>
<span class="t" style="left:843px;top:1616.24px;font-size:21px;line-height:21px;color:#15171c;transform:scaleX(1.121);">78,973</span>
<svg style="left:925px;top:1619.5px;" width="14" height="16" viewBox="0 0 14 16" fill="none"><path d="M7 15 V5" stroke="#0db15d" stroke-width="2.400" stroke-linecap="round"/><path d="M1.500 7.500 L7 1.500 L12.500 7.500 Z" fill="#0db15d" stroke="#0db15d" stroke-width="1.500" stroke-linejoin="round"/></svg>
<span class="t" style="left:1135px;top:1612.24px;font-size:21px;line-height:21px;color:#15171c;transform:scaleX(1.071);">25%</span>
<div style="left:1135px;top:1639.5px;width:240px;height:6px;background:#f0f1f5;border-radius:3px;"></div>
<div style="left:1135px;top:1639.5px;width:60px;height:6px;background:#7b66f5;border-radius:3px;"></div>
<span class="t" style="left:1440px;top:1616.24px;font-size:21px;line-height:21px;color:#15171c;transform:scaleX(1.118);">35%</span>
<div style="left:1507px;top:1610.5px;width:64px;height:31px;background:#f5445f;border-radius:6px;"></div>
<span class="t b" style="left:1518.93px;top:1618.43px;font-size:15.5px;line-height:15.5px;color:#fff;font-weight:700;letter-spacing:1.2px;">2.5%</span>
<div style="left:485px;top:1693.5px;width:44px;height:44px;background:#feecef;border-radius:22px;"></div>
<svg style="left:493px;top:1701.5px;" width="28" height="28" viewBox="0 0 24 24" fill="none"><ellipse cx="12" cy="12" rx="6.500" ry="9" stroke="#f5445f" stroke-width="4.200"/></svg>
<span class="t" style="left:545px;top:1704.75px;font-size:22px;line-height:22px;color:#15171c;transform:scaleX(1.014);">Opera</span>
<span class="t" style="left:843px;top:1705.24px;font-size:21px;line-height:21px;color:#15171c;transform:scaleX(1.059);">12,457</span>
<svg style="left:921px;top:1708.5px;" width="14" height="16" viewBox="0 0 14 16" fill="none"><path d="M7 1 V11" stroke="#f5445f" stroke-width="2.400" stroke-linecap="round"/><path d="M1.500 8.500 L7 14.500 L12.500 8.500 Z" fill="#f5445f" stroke="#f5445f" stroke-width="1.500" stroke-linejoin="round"/></svg>
<span class="t" style="left:1135px;top:1701.24px;font-size:21px;line-height:21px;color:#15171c;transform:scaleX(1.094);">85%</span>
<div style="left:1135px;top:1728.5px;width:240px;height:6px;background:#f0f1f5;border-radius:3px;"></div>
<div style="left:1135px;top:1728.5px;width:204px;height:6px;background:#f5445f;border-radius:3px;"></div>
<span class="t" style="left:1440px;top:1705.24px;font-size:21px;line-height:21px;color:#15171c;transform:scaleX(1.118);">75%</span>
<div style="left:1507px;top:1699.5px;width:64px;height:31px;background:#0db15d;border-radius:6px;"></div>
<span class="t b" style="left:1518.93px;top:1707.43px;font-size:15.5px;line-height:15.5px;color:#fff;font-weight:700;letter-spacing:1.2px;">2.5%</span>
<div style="left:485px;top:1782.5px;width:44px;height:44px;background:#e6f5fd;border-radius:22px;"></div>
<svg style="left:493px;top:1790.5px;" width="28" height="28" viewBox="0 0 24 24" fill="none"><path d="M20 12 H7 M20 12 a8 8 0 1 0 -3 7" stroke="#16a9ef" stroke-width="3.600" stroke-linecap="round"/></svg>
<span class="t" style="left:545px;top:1793.75px;font-size:22px;line-height:22px;color:#15171c;transform:scaleX(0.973);">Edge</span>
<span class="t" style="left:843px;top:1794.24px;font-size:21px;line-height:21px;color:#15171c;transform:scaleX(1.161);">8,570</span>
<svg style="left:914px;top:1797.5px;" width="14" height="16" viewBox="0 0 14 16" fill="none"><path d="M7 15 V5" stroke="#0db15d" stroke-width="2.400" stroke-linecap="round"/><path d="M1.500 7.500 L7 1.500 L12.500 7.500 Z" fill="#0db15d" stroke="#0db15d" stroke-width="1.500" stroke-linejoin="round"/></svg>
<span class="t" style="left:1135px;top:1790.24px;font-size:21px;line-height:21px;color:#15171c;transform:scaleX(1.071);">35%</span>
<div style="left:1135px;top:1817.5px;width:240px;height:6px;background:#f0f1f5;border-radius:3px;"></div>
<div style="left:1135px;top:1817.5px;width:84px;height:6px;background:#16a9ef;border-radius:3px;"></div>
<span class="t" style="left:1440px;top:1794.24px;font-size:21px;line-height:21px;color:#15171c;transform:scaleX(1.118);">25%</span>
<div style="left:1507px;top:1788.5px;width:64px;height:31px;background:#f5445f;border-radius:6px;"></div>
<span class="t b" style="left:1518.93px;top:1796.43px;font-size:15.5px;line-height:15.5px;color:#fff;font-weight:700;letter-spacing:1.2px;">2.5%</span>
<div style="left:485px;top:1871.5px;width:44px;height:44px;background:#fef5e6;border-radius:22px;"></div>
<svg style="left:493px;top:1879.5px;" width="28" height="28" viewBox="0 0 24 24" fill="none"><circle cx="12" cy="12" r="9.500" fill="#f9a21c"/><circle cx="14" cy="10" r="4.500" fill="#fff3dc"/></svg>
<span class="t" style="left:545px;top:1882.75px;font-size:22px;line-height:22px;color:#15171c;transform:scaleX(1.071);">Firefox</span>
<span class="t" style="left:843px;top:1883.24px;font-size:21px;line-height:21px;color:#15171c;transform:scaleX(1.047);">6,135</span>
<svg style="left:908px;top:1886.5px;" width="14" height="16" viewBox="0 0 14 16" fill="none"><path d="M7 1 V11" stroke="#f5445f" stroke-width="2.400" stroke-linecap="round"/><path d="M1.500 8.500 L7 14.500 L12.500 8.500 Z" fill="#f5445f" stroke="#f5445f" stroke-width="1.500" stroke-linejoin="round"/></svg>
<span class="t" style="left:1135px;top:1879.24px;font-size:21px;line-height:21px;color:#15171c;transform:scaleX(1.027);">55</span>
<div style="left:1135px;top:1906.5px;width:240px;height:6px;background:#f0f1f5;border-radius:3px;"></div>
<div style="left:1135px;top:1906.5px;width:132px;height:6px;background:#f9a21c;border-radius:3px;"></div>
<span class="t" style="left:1440px;top:1883.24px;font-size:21px;line-height:21px;color:#15171c;transform:scaleX(1.118);">25%</span>
<div style="left:1507px;top:1877.5px;width:64px;height:31px;background:#0db15d;border-radius:6px;"></div>
<span class="t b" style="left:1518.93px;top:1885.43px;font-size:15.5px;line-height:15.5px;color:#fff;font-weight:700;letter-spacing:1.2px;">2.5%</span>
<!-- IMPRESSION OVERVIEW -->
<div style="left:1822px;top:1322px;width:658px;height:645px;background:#fff;border-radius:12px;box-shadow:0 3px 5px rgba(30,40,90,.035);"></div>
<h2 class="t s" style="left:1848px;top:1356.81px;font-size:27px;line-height:27px;color:#15171c;transform:scaleX(1.031);">Impression Overview</h2>
<span class="t l" style="left:2350px;top:1361.23px;font-size:20px;line-height:20px;color:#8a94ad;transform:scaleX(1.062);">View All</span>
<svg style="left:2432px;top:1364px;" width="18" height="14" viewBox="0 0 18 14" fill="none"><path d="M2 7 h13 M10 3 l5 4 l-5 4" stroke="#8a94ad" stroke-width="2" stroke-linecap="round" stroke-linejoin="round"/></svg>
<div style="left:1848px;top:1431px;width:182px;height:17px;background:#0db15d;border-radius:9px 0 0 9px;background-image:repeating-linear-gradient(45deg,rgba(255,255,255,.22) 0,rgba(255,255,255,.22) 7px,transparent 7px,transparent 22px);"></div>
<div style="left:2036px;top:1431px;width:145px;height:17px;background:#7b66f5;border-radius:0;background-image:repeating-linear-gradient(45deg,rgba(255,255,255,.22) 0,rgba(255,255,255,.22) 7px,transparent 7px,transparent 22px);"></div>
<div style="left:2187px;top:1431px;width:164px;height:17px;background:#f5445f;border-radius:0;background-image:repeating-linear-gradient(45deg,rgba(255,255,255,.22) 0,rgba(255,255,255,.22) 7px,transparent 7px,transparent 22px);"></div>
<div style="left:2356px;top:1431px;width:96px;height:17px;background:#f9a21c;border-radius:0 9px 9px 0;background-image:repeating-linear-gradient(45deg,rgba(255,255,255,.22) 0,rgba(255,255,255,.22) 7px,transparent 7px,transparent 22px);"></div>
<div style="left:1848px;top:1488px;width:604px;height:447px;border-radius:10px;border:2px solid #eef0f5;"></div>
<div style="left:1872px;top:1511px;width:66px;height:66px;background:#e1f5ea;border-radius:8px;"></div>
<svg style="left:1887px;top:1526px;" width="36" height="36" viewBox="0 0 32 32" fill="none"><rect x="3" y="6" width="26" height="20" rx="3" fill="#0db15d"/><path d="M4 8 l12 9 l12 -9" stroke="#e1f5ea" stroke-width="2.400"/></svg>
<span class="t s" style="left:1952px;top:1515.76px;font-size:23px;line-height:23px;color:#15171c;transform:scaleX(1.026);">Email</span>
<span class="t" style="left:1952px;top:1550.01px;font-size:22.5px;line-height:22.5px;color:#8e98b2;transform:scaleX(1.052);">Increases Today</span>
<span class="t s" style="left:2246px;top:1532.76px;font-size:23px;line-height:23px;color:#15171c;">$15,764</span>
<div style="left:2344px;top:1529px;width:86px;height:30px;background:#f0eefe;border-radius:6px;"></div>
<span class="t" style="left:2357px;top:1536.43px;font-size:15.5px;line-height:15.5px;color:#7b66f5;transform:scaleX(1.132);">+1.06%</span>
<div style="left:1850px;top:1599px;width:600px;height:2px;background:#eef0f5;"></div>
<div style="left:1872px;top:1623px;width:66px;height:66px;background:#ebe8fe;border-radius:8px;"></div>
<svg style="left:1887px;top:1638px;" width="36" height="36" viewBox="0 0 32 32" fill="none"><circle cx="14" cy="14" r="9.500" stroke="#7b66f5" stroke-width="2.600"/><circle cx="14" cy="14" r="4.500" fill="#7b66f5" opacity=".55"/><path d="M21 21 L28 28" stroke="#7b66f5" stroke-width="2.800" stroke-linecap="round"/></svg>
<span class="t s" style="left:1952px;top:1627.76px;font-size:23px;line-height:23px;color:#15171c;transform:scaleX(1.043);">Search</span>
<span class="t" style="left:1952px;top:1662.01px;font-size:22.5px;line-height:22.5px;color:#8e98b2;transform:scaleX(1.061);">Decreases Today</span>
<span class="t s" style="left:2241px;top:1644.76px;font-size:23px;line-height:23px;color:#15171c;transform:scaleX(1.07);">$22,864</span>
<div style="left:2344px;top:1641px;width:86px;height:30px;background:#feecef;border-radius:6px;"></div>
<span class="t" style="left:2357px;top:1648.43px;font-size:15.5px;line-height:15.5px;color:#f5445f;transform:scaleX(1.222);">-0.15%</span>
<div style="left:1850px;top:1711px;width:600px;height:2px;background:#eef0f5;"></div>
<div style="left:1872px;top:1735px;width:66px;height:66px;background:#fee5e9;border-radius:8px;"></div>
<svg style="left:1887px;top:1750px;" width="36" height="36" viewBox="0 0 32 32" fill="none"><rect x="4" y="4" width="24" height="24" rx="5" fill="#f5445f" opacity=".35"/><rect x="4" y="4" width="24" height="24" rx="5" stroke="#f5445f" stroke-width="2.200"/><circle cx="16" cy="16" r="4.500" fill="#f5445f"/></svg>
<span class="t s" style="left:1952px;top:1739.76px;font-size:23px;line-height:23px;color:#15171c;transform:scaleX(1.038);">Social</span>
<span class="t" style="left:1952px;top:1774.01px;font-size:22.5px;line-height:22.5px;color:#8e98b2;transform:scaleX(1.052);">Increases Today</span>
<span class="t s" style="left:2258px;top:1756.76px;font-size:23px;line-height:23px;color:#15171c;">$12,543</span>
<div style="left:2356px;top:1753px;width:74px;height:30px;background:#f0eefe;border-radius:6px;"></div>
<span class="t" style="left:2369px;top:1760.43px;font-size:15.5px;line-height:15.5px;color:#7b66f5;transform:scaleX(1.082);">+2.8%</span>
<div style="left:1850px;top:1823px;width:600px;height:2px;background:#eef0f5;"></div>
<div style="left:1872px;top:1847px;width:66px;height:66px;background:#fef1dc;border-radius:8px;"></div>
<svg style="left:1887px;top:1862px;" width="36" height="36" viewBox="0 0 32 32" fill="none"><path d="M2 16 c6 -11 22 -11 28 0 c-6 11 -22 11 -28 0 z" stroke="#f9a21c" stroke-width="2.600" stroke-linejoin="round"/><circle cx="16" cy="16" r="4.500" stroke="#f9a21c" stroke-width="2.600"/></svg>
<span class="t s" style="left:1952px;top:1851.76px;font-size:23px;line-height:23px;color:#15171c;transform:scaleX(1.099);">Direct</span>
<span class="t" style="left:1952px;top:1886.01px;font-size:22.5px;line-height:22.5px;color:#8e98b2;transform:scaleX(1.061);">Decreases Today</span>
<span class="t s" style="left:2241px;top:1868.76px;font-size:23px;line-height:23px;color:#15171c;transform:scaleX(1.07);">$32,864</span>
<div style="left:2344px;top:1865px;width:86px;height:30px;background:#feecef;border-radius:6px;"></div>
<span class="t" style="left:2357px;top:1872.43px;font-size:15.5px;line-height:15.5px;color:#f5445f;transform:scaleX(1.222);">-0.45%</span>
<!-- SALES GROWTH RATE -->
<div style="left:2520px;top:1322px;width:658px;height:645px;background:#fff;border-radius:12px;box-shadow:0 3px 5px rgba(30,40,90,.035);"></div>
<h2 class="t s" style="left:2547px;top:1356.81px;font-size:27px;line-height:27px;color:#15171c;">Sales Growth Rate</h2>
<span class="t l" style="left:3042px;top:1361.23px;font-size:20px;line-height:20px;color:#8a94ad;transform:scaleX(1.037);">Sort By</span>
<svg style="left:3120px;top:1366px;" width="16" height="12" viewBox="0 0 16 12" fill="none"><path d="M3 3 L8 8.500 L13 3" stroke="#8a94ad" stroke-width="2" stroke-linecap="round" stroke-linejoin="round"/></svg>
<div style="left:2547px;top:1424px;width:604px;height:184px;background:#f2f3f5;border-radius:18px;"></div>
<span class="t l" style="left:2575px;top:1457.79px;font-size:25px;line-height:25px;color:#15171c;transform:scaleX(1.014);">Comparison: 2024 vs. 2023</span>
<span class="t l" style="left:2575px;top:1501.47px;font-size:19.5px;line-height:19.5px;color:#9ba4bb;transform:scaleX(1.072);">Increased By</span>
<span class="t" style="left:2703px;top:1501.47px;font-size:19.5px;line-height:19.5px;color:#2fb574;transform:scaleX(1.067);">2.62%</span>
<svg style="left:2770px;top:1498px;" width="14" height="20" viewBox="0 0 14 20" fill="none"><path d="M7 18 V3 M2.500 7.500 l4.500 -4.500 l4.500 4.500" stroke="#2fb574" stroke-width="2.200" stroke-linecap="round" stroke-linejoin="round"/></svg>
<span class="t" style="left:2575px;top:1542.9px;font-size:35px;line-height:35px;color:#15171c;transform:scaleX(1.087);">20.85%</span>
<div style="left:3029px;top:1470px;width:92px;height:92px;background:rgba(13,177,93,.14);border-radius:46px;"></div>
<div style="left:3040px;top:1481px;width:70px;height:70px;background:#0db15d;border-radius:35px;"></div>
<svg style="left:3059px;top:1500px;" width="32" height="32" viewBox="0 0 32 32" fill="none"><path d="M4 3 v22 a3 3 0 0 0 3 3 h22" stroke="#fff" stroke-width="2.600" stroke-linecap="round"/><path d="M10 20 l5 -6 l5 3 l7 -9" stroke="#fff" stroke-width="2.600" stroke-linecap="round" stroke-linejoin="round"/></svg>
<svg style="left:2520px;top:1620px;" width="658" height="220" viewBox="0 0 658 220" fill="none"><path d="M47 20 V212" stroke="#eef0f5" stroke-width="1.500" stroke-dasharray="3 4"/><path d="M98 20 V212" stroke="#eef0f5" stroke-width="1.500" stroke-dasharray="3 4"/><path d="M150 20 V212" stroke="#eef0f5" stroke-width="1.500" stroke-dasharray="3 4"/><path d="M202 20 V212" stroke="#eef0f5" stroke-width="1.500" stroke-dasharray="3 4"/><path d="M254 20 V212" stroke="#eef0f5" stroke-width="1.500" stroke-dasharray="3 4"/><path d="M305 20 V212" stroke="#eef0f5" stroke-width="1.500" stroke-dasharray="3 4"/><path d="M356 20 V212" stroke="#eef0f5" stroke-width="1.500" stroke-dasharray="3 4"/><path d="M408 20 V212" stroke="#eef0f5" stroke-width="1.500" stroke-dasharray="3 4"/><path d="M460 20 V212" stroke="#eef0f5" stroke-width="1.500" stroke-dasharray="3 4"/><path d="M512 20 V212" stroke="#eef0f5" stroke-width="1.500" stroke-dasharray="3 4"/><path d="M563 20 V212" stroke="#eef0f5" stroke-width="1.500" stroke-dasharray="3 4"/><path d="M615 20 V212" stroke="#eef0f5" stroke-width="1.500" stroke-dasharray="3 4"/><path d="M40 211 H622" stroke="#eceef3" stroke-width="2"/><path d="M47 151 L98 150 L150 172 L202 135 L254 129 L305 148 L356 149 L408 166 L460 165 L512 155 L563 157 L615 150" stroke="#7b66f5" stroke-width="2.500" stroke-dasharray="5 3" stroke-linejoin="round"/><circle cx="47" cy="151" r="5" fill="#7b66f5"/><circle cx="98" cy="150" r="5" fill="#7b66f5"/><circle cx="150" cy="172" r="5" fill="#7b66f5"/><circle cx="202" cy="135" r="5" fill="#7b66f5"/><circle cx="254" cy="129" r="5" fill="#7b66f5"/><circle cx="305" cy="148" r="5" fill="#7b66f5"/><circle cx="356" cy="149" r="5" fill="#7b66f5"/><circle cx="408" cy="166" r="5" fill="#7b66f5"/><circle cx="460" cy="165" r="5" fill="#7b66f5"/><circle cx="512" cy="155" r="5" fill="#7b66f5"/><circle cx="563" cy="157" r="5" fill="#7b66f5"/><circle cx="615" cy="150" r="5" fill="#7b66f5"/><path d="M47 58 L98 60 L150 95 L202 68 L254 52 L305 83 L356 71 L408 104 L460 127 L512 97 L563 89 L615 75" stroke="#0db15d" stroke-width="2.500" stroke-dasharray="5 3" stroke-linejoin="round"/><circle cx="47" cy="58" r="5" fill="#0db15d"/><circle cx="98" cy="60" r="5" fill="#0db15d"/><circle cx="150" cy="95" r="5" fill="#0db15d"/><circle cx="202" cy="68" r="5" fill="#0db15d"/><circle cx="254" cy="52" r="5" fill="#0db15d"/><circle cx="305" cy="83" r="5" fill="#0db15d"/><circle cx="356" cy="71" r="5" fill="#0db15d"/><circle cx="408" cy="104" r="5" fill="#0db15d"/><circle cx="460" cy="127" r="5" fill="#0db15d"/><circle cx="512" cy="97" r="5" fill="#0db15d"/><circle cx="563" cy="89" r="5" fill="#0db15d"/><circle cx="615" cy="75" r="5" fill="#0db15d"/></svg>
<span class="t" style="left:2561.44px;top:1853.23px;font-size:20px;line-height:20px;color:#7f89a3;">1</span>
<span class="t" style="left:2612.44px;top:1853.23px;font-size:20px;line-height:20px;color:#7f89a3;">2</span>
<span class="t" style="left:2664.44px;top:1853.23px;font-size:20px;line-height:20px;color:#7f89a3;">3</span>
<span class="t" style="left:2716.44px;top:1853.23px;font-size:20px;line-height:20px;color:#7f89a3;">4</span>
<span class="t" style="left:2768.44px;top:1853.23px;font-size:20px;line-height:20px;color:#7f89a3;">5</span>
<span class="t" style="left:2819.44px;top:1853.23px;font-size:20px;line-height:20px;color:#7f89a3;">6</span>
<span class="t" style="left:2870.44px;top:1853.23px;font-size:20px;line-height:20px;color:#7f89a3;">7</span>
<span class="t" style="left:2922.44px;top:1853.23px;font-size:20px;line-height:20px;color:#7f89a3;">8</span>
<span class="t" style="left:2974.44px;top:1853.23px;font-size:20px;line-height:20px;color:#7f89a3;">9</span>
<span class="t" style="left:3020.88px;top:1853.23px;font-size:20px;line-height:20px;color:#7f89a3;">10</span>
<span class="t" style="left:3072.62px;top:1853.23px;font-size:20px;line-height:20px;color:#7f89a3;">11</span>
<span class="t" style="left:3123.88px;top:1853.23px;font-size:20px;line-height:20px;color:#7f89a3;">12</span>
<div style="left:2733px;top:1908px;width:14px;height:14px;background:#7b66f5;border-radius:7px;"></div>
<span class="t" style="left:2756px;top:1904.99px;font-size:20.5px;line-height:20.5px;color:#15171c;">Last Year</span>
<div style="left:2858px;top:1908px;width:14px;height:14px;background:#0db15d;border-radius:7px;"></div>
<span class="t" style="left:2881px;top:1904.99px;font-size:20.5px;line-height:20.5px;color:#15171c;">This Year</span>
<!-- VISITORS BY CHANNEL -->
<div style="left:424px;top:2007px;width:2754px;height:500px;background:#fff;border-radius:12px;box-shadow:0 3px 5px rgba(30,40,90,.035);"></div>
<h2 class="t s" style="left:452px;top:2048.81px;font-size:27px;line-height:27px;color:#15171c;">Visitors by Channel</h2>
<div style="left:2720px;top:2040px;width:276px;height:48px;background:#fff;border-radius:8px;border:2px solid #eceef4;"></div>
<span class="t l" style="left:2743px;top:2053.74px;font-size:21px;line-height:21px;color:#9aa3bd;transform:scaleX(1.043);">Search Here</span>
<div style="left:3023px;top:2040px;width:128px;height:48px;background:#0db15d;border-radius:8px;"></div>
<span class="t" style="left:3040px;top:2052.99px;font-size:20.5px;line-height:20.5px;color:#fff;">Sort By</span>
<svg style="left:3118px;top:2058px;" width="16" height="12" viewBox="0 0 16 12" fill="none"><path d="M3 3 L8 8.500 L13 3" stroke="#fff" stroke-width="2.200" stroke-linecap="round" stroke-linejoin="round"/></svg>
<div style="left:452px;top:2130px;width:2700px;height:400px;border:2px solid #eef0f5;"></div>
<div style="left:452px;top:2205px;width:2700px;height:2px;background:#eef0f5;"></div>
<div style="left:452px;top:2293px;width:2700px;height:2px;background:#eef0f5;"></div>
<div style="left:452px;top:2381px;width:2700px;height:2px;background:#eef0f5;"></div>
<div style="left:613px;top:2130px;width:2px;height:400px;background:#eef0f5;"></div>
<div style="left:1017px;top:2130px;width:2px;height:400px;background:#eef0f5;"></div>
<div style="left:1241px;top:2130px;width:2px;height:400px;background:#eef0f5;"></div>
<div style="left:1521px;top:2130px;width:2px;height:400px;background:#eef0f5;"></div>
<div style="left:1924px;top:2130px;width:2px;height:400px;background:#eef0f5;"></div>
<div style="left:2262px;top:2130px;width:2px;height:400px;background:#eef0f5;"></div>
<div style="left:2524px;top:2130px;width:2px;height:400px;background:#eef0f5;"></div>
<div style="left:2769px;top:2130px;width:2px;height:400px;background:#eef0f5;"></div>
<span class="t" style="left:485px;top:2157.01px;font-size:22.5px;line-height:22.5px;color:#15171c;transform:scaleX(1.08);">S.No</span>
<span class="t" style="left:647px;top:2157.01px;font-size:22.5px;line-height:22.5px;color:#15171c;transform:scaleX(1.074);">Channel</span>
<span class="t" style="left:1050px;top:2157.01px;font-size:22.5px;line-height:22.5px;color:#15171c;transform:scaleX(1.062);">Sessions</span>
<span class="t" style="left:1272px;top:2157.01px;font-size:22.5px;line-height:22.5px;color:#15171c;transform:scaleX(1.068);">Bounce Rate</span>
<span class="t" style="left:1553px;top:2157.01px;font-size:22.5px;line-height:22.5px;color:#15171c;transform:scaleX(1.056);">Avg Session Duration</span>
<span class="t" style="left:1957px;top:2157.01px;font-size:22.5px;line-height:22.5px;color:#15171c;transform:scaleX(1.126);">Goal Completed</span>
<span class="t" style="left:2295px;top:2157.01px;font-size:22.5px;line-height:22.5px;color:#15171c;transform:scaleX(1.088);">Pages/Visit</span>
<span class="t" style="left:2557px;top:2157.01px;font-size:22.5px;line-height:22.5px;color:#15171c;transform:scaleX(1.066);">% Change</span>
<span class="t" style="left:2800px;top:2157.01px;font-size:22.5px;line-height:22.5px;color:#15171c;transform:scaleX(1.059);">Top Referral Source</span>
<span class="t" style="left:485px;top:2239.25px;font-size:22px;line-height:22px;color:#15171c;">1</span>
<div style="left:648px;top:2229px;width:42px;height:42px;background:#e1f5ea;border-radius:21px;"></div>
<svg style="left:657px;top:2238px;" width="24" height="24" viewBox="0 0 24 24" fill="none"><circle cx="11" cy="11" r="7" stroke="#0db15d" stroke-width="3.200"/><path d="M16.500 16.500 L21 21" stroke="#0db15d" stroke-width="3.400" stroke-linecap="round"/></svg>
<span class="t" style="left:707px;top:2239.25px;font-size:22px;line-height:22px;color:#15171c;transform:scaleX(1.06);">Organic Search</span>
<span class="t" style="left:1050px;top:2239.25px;font-size:22px;line-height:22px;color:#15171c;transform:scaleX(1.171);">850</span>
<span class="t" style="left:1272px;top:2239.25px;font-size:22px;line-height:22px;color:#15171c;transform:scaleX(1.112);">28.45%</span>
<span class="t" style="left:1553px;top:2239.25px;font-size:22px;line-height:22px;color:#15171c;transform:scaleX(0.955);">0 hrs : 1 mins : 15 secs</span>
<div style="left:2066px;top:2234px;width:58px;height:32px;background:#0db15d;border-radius:7px;"></div>
<span class="t b" style="left:2080.87px;top:2242.43px;font-size:15.5px;line-height:15.5px;color:#fff;font-weight:700;letter-spacing:0.8px;">300</span>
<span class="t" style="left:2295px;top:2239.25px;font-size:22px;line-height:22px;color:#15171c;transform:scaleX(1.046);">3.2</span>
<span class="t" style="left:2557px;top:2239.25px;font-size:22px;line-height:22px;color:#2fb574;transform:scaleX(0.984);">+7.1%</span>
<span class="t" style="left:2800px;top:2239.25px;font-size:22px;line-height:22px;color:#15171c;transform:scaleX(1.096);">Google, Facebook</span>
<span class="t" style="left:485px;top:2327.75px;font-size:22px;line-height:22px;color:#15171c;">2</span>
<div style="left:648px;top:2317.5px;width:42px;height:42px;background:#ebe8fe;border-radius:21px;"></div>
<svg style="left:657px;top:2326.5px;" width="24" height="24" viewBox="0 0 24 24" fill="none"><circle cx="6" cy="12" r="3.600" fill="#7b66f5"/><circle cx="18" cy="5.500" r="3.600" fill="#7b66f5"/><circle cx="18" cy="18.500" r="3.600" fill="#7b66f5"/><path d="M6 12 L18 5.500 M6 12 L18 18.500" stroke="#7b66f5" stroke-width="2.200"/></svg>
<span class="t" style="left:707px;top:2327.75px;font-size:22px;line-height:22px;color:#15171c;transform:scaleX(1.105);">Direct Traffic</span>
<span class="t l" style="left:1050px;top:2327.75px;font-size:22px;line-height:22px;color:#3bb4f2;transform:scaleX(1.171);">900</span>
<span class="t" style="left:1272px;top:2327.75px;font-size:22px;line-height:22px;color:#15171c;transform:scaleX(1.112);">25.50%</span>
<span class="t" style="left:1553px;top:2327.75px;font-size:22px;line-height:22px;color:#15171c;">0 hrs : 2 mins : 30 secs</span>
<div style="left:2066px;top:2322.5px;width:58px;height:32px;background:#0db15d;border-radius:7px;"></div>
<span class="t b" style="left:2080.87px;top:2330.93px;font-size:15.5px;line-height:15.5px;color:#fff;font-weight:700;letter-spacing:0.8px;">150</span>
<span class="t" style="left:2295px;top:2327.75px;font-size:22px;line-height:22px;color:#15171c;transform:scaleX(1.046);">4.0</span>
<span class="t" style="left:2557px;top:2327.75px;font-size:22px;line-height:22px;color:#2fb574;transform:scaleX(1.111);">+3.8%</span>
<span class="t" style="left:2800px;top:2327.75px;font-size:22px;line-height:22px;color:#15171c;transform:scaleX(1.069);">Twitter, LinkedIn</span>
<!-- HEADER -->
<div style="left:390px;top:0px;width:2810px;height:109px;background:#fff;border-bottom:2px solid #eceef4;"></div>
<svg style="left:415px;top:40px;" width="28" height="28" viewBox="0 0 28 28" fill="none"><path d="M2 3.500 h24 M2 14 h15 M2 24.500 h24" stroke="#a9b1c8" stroke-width="2.2" stroke-linecap="round"/></svg>
<div style="left:474px;top:26px;width:534px;height:56px;background:#fff;border-radius:10px;border:2px solid #eef0f6;"></div>
<span class="t l" style="left:494px;top:43.25px;font-size:22px;line-height:22px;color:#a6acbd;">Search for Results...</span>
<svg style="left:964px;top:40px;" width="28" height="28" viewBox="0 0 28 28" fill="none"><circle cx="11.500" cy="11.500" r="8.500" stroke="#8f98b3" stroke-width="2.4"/><path d="M18 18 L25 25" stroke="#8f98b3" stroke-width="2.6" stroke-linecap="round"/></svg>
<div style="left:2646px;top:0px;width:2px;height:107px;background:#f1f2f7;"></div>
<div style="left:2726px;top:0px;width:2px;height:107px;background:#f1f2f7;"></div>
<div style="left:2807px;top:0px;width:2px;height:107px;background:#f1f2f7;"></div>
<div style="left:2888px;top:0px;width:2px;height:107px;background:#f1f2f7;"></div>
<div style="left:2968px;top:0px;width:2px;height:107px;background:#f1f2f7;"></div>
<div style="left:3050px;top:0px;width:2px;height:107px;background:#f1f2f7;"></div>
<div style="left:3132px;top:0px;width:2px;height:107px;background:#f1f2f7;"></div>
<svg style="left:2671px;top:38px;" width="32" height="32" viewBox="0 0 32 32" fill="none"><rect x="3" y="3" width="26" height="26" rx="6" stroke="#5b6585" stroke-width="2.3" stroke-linecap="round" stroke-linejoin="round"/><path d="M11 11 h10 M11 16 h7 M13.500 11 v10" stroke="#5b6585" stroke-width="2.3" stroke-linecap="round" stroke-linejoin="round"/></svg>
<svg style="left:2751px;top:38px;" width="32" height="32" viewBox="0 0 32 32" fill="none"><path d="M20 4 a12.500 12.500 0 1 0 9 19 a11 11 0 0 1 -9 -19 z" stroke="#5b6585" stroke-width="2.3" stroke-linecap="round" stroke-linejoin="round"/></svg>
<svg style="left:2832px;top:38px;" width="32" height="32" viewBox="0 0 32 32" fill="none"><path d="M2 4 h4 l4 16 h14 l3 -11 h-19" stroke="#5b6585" stroke-width="2.3" stroke-linecap="round" stroke-linejoin="round"/><circle cx="12" cy="26" r="2.200" stroke="#5b6585" stroke-width="2.3" stroke-linecap="round" stroke-linejoin="round"/><circle cx="22" cy="26" r="2.200" stroke="#5b6585" stroke-width="2.3" stroke-linecap="round" stroke-linejoin="round"/></svg>
<div style="left:2846px;top:26px;width:26px;height:26px;background:#0db15d;border-radius:13px;border:2px solid #fff;"></div>
<span class="t b" style="left:2854.83px;top:31.67px;font-size:15px;line-height:15px;color:#fff;font-weight:700;">5</span>
<svg style="left:2913px;top:38px;" width="32" height="32" viewBox="0 0 32 32" fill="none"><path d="M16 4 c-6 0 -9 4.500 -9 10 v5 l-3 4.500 h24 l-3 -4.500 v-5 c0 -5.500 -3 -10 -9 -10 z" stroke="#5b6585" stroke-width="2.3" stroke-linecap="round" stroke-linejoin="round"/><path d="M12 27 c2 2.500 6 2.500 8 0" stroke="#5b6585" stroke-width="2.3" stroke-linecap="round" stroke-linejoin="round"/></svg>
<div style="left:2930px;top:34px;width:11px;height:11px;background:#f5367a;border-radius:6px;"></div>
<svg style="left:2993px;top:38px;" width="32" height="32" viewBox="0 0 32 32" fill="none"><path d="M3 10 v-4 a3 3 0 0 1 3 -3 h4 M22 3 h4 a3 3 0 0 1 3 3 v4 M29 22 v4 a3 3 0 0 1 -3 3 h-4 M10 29 h-4 a3 3 0 0 1 -3 -3 v-4" stroke="#5b6585" stroke-width="2.3" stroke-linecap="round" stroke-linejoin="round"/><circle cx="12" cy="20" r="4" stroke="#5b6585" stroke-width="2.3" stroke-linecap="round" stroke-linejoin="round"/><path d="M15 17 l6 -6 M21 11 h-4 M21 11 v4" stroke="#5b6585" stroke-width="2.3" stroke-linecap="round" stroke-linejoin="round"/></svg>
<div style="left:3074px;top:38px;width:33px;height:33px;background:#5f7f74;border-radius:7px;overflow:hidden;"><div style="left:0;top:0;width:35px;height:35px;background:linear-gradient(180deg,#6f8a7c 0%,#4f6e66 100%);"></div><div style="left:10px;top:3px;width:15px;height:10px;border-radius:7px 7px 3px 3px;background:#2c2622;"></div><div style="left:11px;top:8px;width:13px;height:14px;border-radius:6px;background:#d9a88a;"></div><div style="left:3px;top:22px;width:29px;height:16px;border-radius:10px 10px 0 0;background:#e9e6e1;"></div></div>
<svg style="left:3154px;top:38px;" width="32" height="32" viewBox="0 0 32 32" fill="none"><circle cx="16" cy="16" r="10.500" stroke="#5b6585" stroke-width="2.3" stroke-linecap="round" stroke-linejoin="round"/><circle cx="16" cy="16" r="13" stroke="#5b6585" stroke-width="4" stroke-dasharray="5.100 5.110" stroke-dashoffset="2.500"/><circle cx="16" cy="16" r="4.200" stroke="#5b6585" stroke-width="2.3" stroke-linecap="round" stroke-linejoin="round"/></svg>
<!-- SIDEBAR -->
<div style="left:0px;top:0px;width:391px;height:2400px;background:#3c4981;"></div>
<div style="left:391px;top:109px;width:4px;height:2300px;background:rgba(255,255,255,.7);"></div>
<div style="left:0px;top:107px;width:391px;height:2px;background:rgba(255,255,255,.07);"></div>
<svg style="left:119px;top:32px;" width="44" height="44" viewBox="0 0 44 44" fill="none"><circle cx="22" cy="22" r="14.5" stroke="#fff" stroke-width="13"/><g stroke="#3c4981" stroke-width="2.6"><path d="M22 1 L31 15"/><path d="M40 11.5 L32.5 26"/><path d="M40 32.5 L23.5 33"/><path d="M22 43 L13 29"/><path d="M4 32.5 L11.5 18"/><path d="M4 11.5 L20.5 11"/></g></svg>
<h1 class="t s" style="left:172px;top:34.95px;font-size:39px;line-height:39px;color:#fff;transform:scaleX(0.817);">YZEN</h1>
<span class="t s" style="left:36px;top:149.94px;font-size:16.5px;line-height:16.5px;color:#7d89bf;transform:scaleX(1.164);">MAIN</span>
<div style="left:0px;top:198px;width:374px;height:68px;background:rgba(255,255,255,.10);border-radius:0 34px 34px 0;"></div>
<svg style="left:23px;top:216px;" width="32" height="32" viewBox="0 0 32 32" fill="none"><path d="M4 14.5 L16 4 L28 14.5 V25 a3 3 0 0 1 -3 3 H7 a3 3 0 0 1 -3 -3 Z" stroke="#e6e9f7" stroke-width="2.4" stroke-linejoin="round"/><path d="M12 23 h8" stroke="#e6e9f7" stroke-width="2.4" stroke-linecap="round"/></svg>
<span class="t" style="left:75px;top:221.03px;font-size:24.5px;line-height:24.5px;color:#fff;">Dashboards</span>
<svg style="left:316px;top:226px;" width="18" height="12" viewBox="0 0 18 12" fill="none"><path d="M3 10 L9 3.5 L15 10" stroke="#fff" stroke-width="2.6" stroke-linecap="round" stroke-linejoin="round"/></svg>
<div style="left:48px;top:308.5px;width:12px;height:3.5px;background:#cdd2eb;border-radius:2px;opacity:.85;"></div>
<a class="t l" style="left:78px;top:298.52px;font-size:23.5px;line-height:23.5px;color:#cdd2eb;transform:scaleX(0.919);">Sales</a>
<div style="left:48px;top:374.83px;width:12px;height:3.5px;background:#fff;border-radius:2px;opacity:.85;"></div>
<a class="t" style="left:78px;top:364.85px;font-size:23.5px;line-height:23.5px;color:#fff;">Analytics</a>
<div style="left:48px;top:441.16px;width:12px;height:3.5px;background:#cdd2eb;border-radius:2px;opacity:.85;"></div>
<a class="t l" style="left:78px;top:431.18px;font-size:23.5px;line-height:23.5px;color:#cdd2eb;">Ecommerce</a>
<div style="left:48px;top:507.49px;width:12px;height:3.5px;background:#cdd2eb;border-radius:2px;opacity:.85;"></div>
<a class="t l" style="left:78px;top:497.51px;font-size:23.5px;line-height:23.5px;color:#cdd2eb;transform:scaleX(0.916);">CRM</a>
<div style="left:48px;top:573.82px;width:12px;height:3.5px;background:#cdd2eb;border-radius:2px;opacity:.85;"></div>
<a class="t l" style="left:78px;top:563.84px;font-size:23.5px;line-height:23.5px;color:#cdd2eb;transform:scaleX(1.055);">Crypto</a>
<div style="left:48px;top:640.15px;width:12px;height:3.5px;background:#cdd2eb;border-radius:2px;opacity:.85;"></div>
<a class="t l" style="left:78px;top:630.17px;font-size:23.5px;line-height:23.5px;color:#cdd2eb;transform:scaleX(0.876);">NFT</a>
<div style="left:48px;top:706.48px;width:12px;height:3.5px;background:#cdd2eb;border-radius:2px;opacity:.85;"></div>
<a class="t l" style="left:78px;top:696.5px;font-size:23.5px;line-height:23.5px;color:#cdd2eb;transform:scaleX(1.013);">Projects</a>
<div style="left:48px;top:772.81px;width:12px;height:3.5px;background:#cdd2eb;border-radius:2px;opacity:.85;"></div>
<a class="t l" style="left:78px;top:762.83px;font-size:23.5px;line-height:23.5px;color:#cdd2eb;transform:scaleX(0.947);">Jobs</a>
<div style="left:48px;top:839.14px;width:12px;height:3.5px;background:#cdd2eb;border-radius:2px;opacity:.85;"></div>
<a class="t l" style="left:78px;top:829.16px;font-size:23.5px;line-height:23.5px;color:#cdd2eb;transform:scaleX(0.897);">HRM</a>
<div style="left:48px;top:905.47px;width:12px;height:3.5px;background:#cdd2eb;border-radius:2px;opacity:.85;"></div>
<a class="t l" style="left:78px;top:895.49px;font-size:23.5px;line-height:23.5px;color:#cdd2eb;transform:scaleX(0.971);">Courses</a>
<div style="left:48px;top:971.8px;width:12px;height:3.5px;background:#cdd2eb;border-radius:2px;opacity:.85;"></div>
<a class="t l" style="left:78px;top:961.82px;font-size:23.5px;line-height:23.5px;color:#cdd2eb;transform:scaleX(1.021);">Stocks</a>
<div style="left:48px;top:1038.13px;width:12px;height:3.5px;background:#cdd2eb;border-radius:2px;opacity:.85;"></div>
<a class="t l" style="left:78px;top:1028.15px;font-size:23.5px;line-height:23.5px;color:#cdd2eb;">Medical</a>
<div style="left:48px;top:1104.46px;width:12px;height:3.5px;background:#cdd2eb;border-radius:2px;opacity:.85;"></div>
<a class="t l" style="left:78px;top:1094.48px;font-size:23.5px;line-height:23.5px;color:#cdd2eb;transform:scaleX(0.952);">POS System</a>
<div style="left:48px;top:1170.79px;width:12px;height:3.5px;background:#cdd2eb;border-radius:2px;opacity:.85;"></div>
<a class="t l" style="left:78px;top:1160.81px;font-size:23.5px;line-height:23.5px;color:#cdd2eb;transform:scaleX(1.013);">Podcast</a>
<div style="left:48px;top:1237.12px;width:12px;height:3.5px;background:#cdd2eb;border-radius:2px;opacity:.85;"></div>
<a class="t l" style="left:78px;top:1227.14px;font-size:23.5px;line-height:23.5px;color:#cdd2eb;">School</a>
<div style="left:48px;top:1303.45px;width:12px;height:3.5px;background:#cdd2eb;border-radius:2px;opacity:.85;"></div>
<a class="t l" style="left:78px;top:1293.47px;font-size:23.5px;line-height:23.5px;color:#cdd2eb;transform:scaleX(0.966);">Social Media</a>
<span class="t s" style="left:36px;top:1366.94px;font-size:16.5px;line-height:16.5px;color:#7d89bf;transform:scaleX(1.137);">WEB APPS</span>
<span class="t s" style="left:36px;top:1598.94px;font-size:16.5px;line-height:16.5px;color:#7d89bf;transform:scaleX(1.114);">PAGES</span>
<span class="t s" style="left:36px;top:1910.94px;font-size:16.5px;line-height:16.5px;color:#7d89bf;transform:scaleX(1.116);">GENERAL</span>
<span class="t s" style="left:36px;top:2384.94px;font-size:16.5px;line-height:16.5px;color:#7d89bf;transform:scaleX(1.175);">MAPS &amp; ICONS</span>
<svg style="left:23px;top:1435px;" width="32" height="32" viewBox="0 0 32 32" fill="none"><rect x="2.500" y="2.500" width="11.500" height="11.500" rx="5" stroke="#d9ddf0" stroke-width="2" stroke-linecap="round" stroke-linejoin="round"/><rect x="18" y="2.500" width="11.500" height="11.500" rx="5" stroke="#d9ddf0" stroke-width="2" stroke-linecap="round" stroke-linejoin="round"/><rect x="2.500" y="18" width="11.500" height="11.500" rx="5" stroke="#d9ddf0" stroke-width="2" stroke-linecap="round" stroke-linejoin="round"/><rect x="18" y="18" width="11.500" height="11.500" rx="5" stroke="#d9ddf0" stroke-width="2" stroke-linecap="round" stroke-linejoin="round"/></svg>
<a class="t l" style="left:75px;top:1440.03px;font-size:24.5px;line-height:24.5px;color:#cdd2eb;transform:scaleX(1.021);">Apps</a>
<svg style="left:316px;top:1444px;" width="18" height="12" viewBox="0 0 18 12" fill="none"><path d="M3.500 2.500 L9 8.500 L14.500 2.500" stroke="#d3d8ee" stroke-width="2.4" stroke-linecap="round" stroke-linejoin="round"/></svg>
<svg style="left:23px;top:1516px;" width="32" height="32" viewBox="0 0 32 32" fill="none"><path d="M16 3 L27 8.500 V22 L16 29 L5 22 V8.500 Z" stroke="#d9ddf0" stroke-width="2" stroke-linecap="round" stroke-linejoin="round"/><path d="M5 13 c4 5 18 5 22 0 M5 20 c4 5 18 5 22 0" stroke="#d9ddf0" stroke-width="2" stroke-linecap="round" stroke-linejoin="round"/></svg>
<a class="t l" style="left:75px;top:1521.03px;font-size:24.5px;line-height:24.5px;color:#cdd2eb;">Nested Menu</a>
<svg style="left:316px;top:1525px;" width="18" height="12" viewBox="0 0 18 12" fill="none"><path d="M3.500 2.500 L9 8.500 L14.500 2.500" stroke="#d3d8ee" stroke-width="2.4" stroke-linecap="round" stroke-linejoin="round"/></svg>
<svg style="left:23px;top:1665px;" width="32" height="32" viewBox="0 0 32 32" fill="none"><path d="M26 8 a12.500 12.500 0 1 0 2 10" stroke="#d9ddf0" stroke-width="2" stroke-linecap="round" stroke-linejoin="round"/><circle cx="16" cy="16" r="4.500" stroke="#d9ddf0" stroke-width="2" stroke-linecap="round" stroke-linejoin="round"/><path d="M20.500 12 v5 a3 3 0 0 0 6 0" stroke="#d9ddf0" stroke-width="2" stroke-linecap="round" stroke-linejoin="round"/></svg>
<a class="t l" style="left:75px;top:1670.03px;font-size:24.5px;line-height:24.5px;color:#cdd2eb;transform:scaleX(1.043);">Authentication</a>
<svg style="left:316px;top:1674px;" width="18" height="12" viewBox="0 0 18 12" fill="none"><path d="M3.500 2.500 L9 8.500 L14.500 2.500" stroke="#d3d8ee" stroke-width="2.4" stroke-linecap="round" stroke-linejoin="round"/></svg>
<svg style="left:23px;top:1747px;" width="32" height="32" viewBox="0 0 32 32" fill="none"><path d="M13.400 5.500 a3 3 0 0 1 5.200 0 L28.500 23 a3 3 0 0 1 -2.600 4.500 H6.100 a3 3 0 0 1 -2.600 -4.500 Z" stroke="#d9ddf0" stroke-width="2" stroke-linecap="round" stroke-linejoin="round"/><path d="M16 12 v6.500 M16 22.500 v.5" stroke="#d9ddf0" stroke-width="2" stroke-linecap="round" stroke-linejoin="round"/></svg>
<a class="t l" style="left:75px;top:1752.03px;font-size:24.5px;line-height:24.5px;color:#cdd2eb;transform:scaleX(0.973);">Error</a>
<svg style="left:316px;top:1756px;" width="18" height="12" viewBox="0 0 18 12" fill="none"><path d="M3.500 2.500 L9 8.500 L14.500 2.500" stroke="#d3d8ee" stroke-width="2.4" stroke-linecap="round" stroke-linejoin="round"/></svg>
<svg style="left:23px;top:1828px;" width="32" height="32" viewBox="0 0 32 32" fill="none"><path d="M10 3 h8 l7.500 7.500 v14.500 a4 4 0 0 1 -4 4 h-11.500 a4 4 0 0 1 -4 -4 v-18 a4 4 0 0 1 4 -4 z" stroke="#d9ddf0" stroke-width="2" stroke-linecap="round" stroke-linejoin="round"/><path d="M18 3 v4 a3.500 3.500 0 0 0 3.500 3.500 h4 M11 22 l3 -5 l3.500 3" stroke="#d9ddf0" stroke-width="2" stroke-linecap="round" stroke-linejoin="round"/></svg>
<a class="t l" style="left:75px;top:1833.03px;font-size:24.5px;line-height:24.5px;color:#cdd2eb;transform:scaleX(0.964);">Pages</a>
<svg style="left:316px;top:1837px;" width="18" height="12" viewBox="0 0 18 12" fill="none"><path d="M3.500 2.500 L9 8.500 L14.500 2.500" stroke="#d3d8ee" stroke-width="2.4" stroke-linecap="round" stroke-linejoin="round"/></svg>
<svg style="left:23px;top:1977px;" width="32" height="32" viewBox="0 0 32 32" fill="none"><rect x="4" y="4" width="24" height="24" rx="7" stroke="#d9ddf0" stroke-width="2" stroke-linecap="round" stroke-linejoin="round"/><path d="M13 4 v24 M13 15 h15" stroke="#d9ddf0" stroke-width="2" stroke-linecap="round" stroke-linejoin="round"/></svg>
<a class="t l" style="left:75px;top:1982.03px;font-size:24.5px;line-height:24.5px;color:#cdd2eb;transform:scaleX(0.98);">Forms</a>
<svg style="left:316px;top:1986px;" width="18" height="12" viewBox="0 0 18 12" fill="none"><path d="M3.500 2.500 L9 8.500 L14.500 2.500" stroke="#d3d8ee" stroke-width="2.4" stroke-linecap="round" stroke-linejoin="round"/></svg>
<svg style="left:23px;top:2059px;" width="32" height="32" viewBox="0 0 32 32" fill="none"><rect x="4" y="4" width="24" height="24" rx="6" stroke="#d9ddf0" stroke-width="2" stroke-linecap="round" stroke-linejoin="round"/><path d="M4 13 h24 M16 13 v15" stroke="#d9ddf0" stroke-width="2" stroke-linecap="round" stroke-linejoin="round"/></svg>
<a class="t l" style="left:75px;top:2064.03px;font-size:24.5px;line-height:24.5px;color:#cdd2eb;transform:scaleX(0.944);">UI Elements</a>
<svg style="left:316px;top:2068px;" width="18" height="12" viewBox="0 0 18 12" fill="none"><path d="M3.500 2.500 L9 8.500 L14.500 2.500" stroke="#d3d8ee" stroke-width="2.4" stroke-linecap="round" stroke-linejoin="round"/></svg>
<svg style="left:23px;top:2141px;" width="32" height="32" viewBox="0 0 32 32" fill="none"><path d="M5 27 l3 -9 L21 5 a3.500 3.500 0 0 1 5 5 L13 24 Z" stroke="#d9ddf0" stroke-width="2" stroke-linecap="round" stroke-linejoin="round"/><path d="M18 9 l5 5" stroke="#d9ddf0" stroke-width="2" stroke-linecap="round" stroke-linejoin="round"/></svg>
<a class="t l" style="left:75px;top:2146.03px;font-size:24.5px;line-height:24.5px;color:#cdd2eb;transform:scaleX(0.977);">Advanced UI</a>
<svg style="left:316px;top:2150px;" width="18" height="12" viewBox="0 0 18 12" fill="none"><path d="M3.500 2.500 L9 8.500 L14.500 2.500" stroke="#d3d8ee" stroke-width="2.4" stroke-linecap="round" stroke-linejoin="round"/></svg>
<svg style="left:23px;top:2223px;" width="32" height="32" viewBox="0 0 32 32" fill="none"><circle cx="16" cy="19" r="9" stroke="#d9ddf0" stroke-width="2" stroke-linecap="round" stroke-linejoin="round"/><path d="M11 5 h10 M13 5 v5 M19 5 v5 M13 19 h6" stroke="#d9ddf0" stroke-width="2" stroke-linecap="round" stroke-linejoin="round"/></svg>
<a class="t l" style="left:75px;top:2228.03px;font-size:24.5px;line-height:24.5px;color:#cdd2eb;transform:scaleX(1.026);">Utilities</a>
<svg style="left:316px;top:2232px;" width="18" height="12" viewBox="0 0 18 12" fill="none"><path d="M3.500 2.500 L9 8.500 L14.500 2.500" stroke="#d3d8ee" stroke-width="2.4" stroke-linecap="round" stroke-linejoin="round"/></svg>
<svg style="left:23px;top:2305px;" width="32" height="32" viewBox="0 0 32 32" fill="none"><rect x="5" y="11" width="22" height="17" rx="4" stroke="#d9ddf0" stroke-width="2" stroke-linecap="round" stroke-linejoin="round"/><path d="M16 11 v17 M11 11 c-5 -7 4 -9 5 0 c1 -9 10 -7 5 0" stroke="#d9ddf0" stroke-width="2" stroke-linecap="round" stroke-linejoin="round"/></svg>
<a class="t l" style="left:75px;top:2310.03px;font-size:24.5px;line-height:24.5px;color:#cdd2eb;transform:scaleX(1.051);">Widgets</a>
</div>
</div>
</body>
</html>
